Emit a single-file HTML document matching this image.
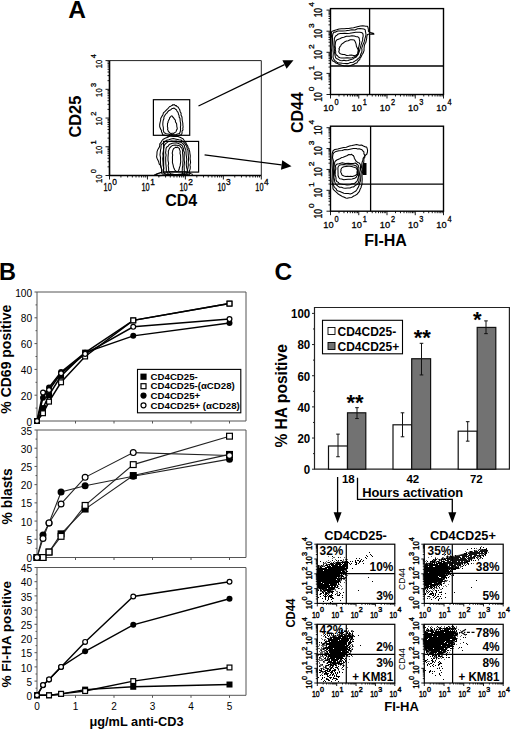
<!DOCTYPE html>
<html><head><meta charset="utf-8"><style>
html,body{margin:0;padding:0;background:#fff;}
svg{display:block;font-family:"Liberation Sans",sans-serif;}
</style></head><body>
<svg width="520" height="730" viewBox="0 0 520 730">
<rect width="520" height="730" fill="#fff"/>
<text x="68.2" y="17.7" font-size="24.5" font-weight="bold" text-anchor="start" fill="#000">A</text>
<path d="M109.5 60.6H261.3V175.5" stroke="#222" stroke-width="1.0" fill="none"/>
<path d="M109.5 60.6V175.5H261.3" stroke="#000" stroke-width="1.6" fill="none"/>
<path d="M120.92 175.5v2M109.5 166.85h-2M127.61 175.5v2M109.5 161.79h-2M132.35 175.5v2M109.5 158.21h-2M136.03 175.5v2M109.5 155.42h-2M139.03 175.5v2M109.5 153.15h-2M141.57 175.5v2M109.5 151.22h-2M143.77 175.5v2M109.5 149.56h-2M145.71 175.5v2M109.5 148.09h-2M158.87 175.5v2M109.5 138.13h-2M165.56 175.5v2M109.5 133.07h-2M170.3 175.5v2M109.5 129.48h-2M173.98 175.5v2M109.5 126.7h-2M176.98 175.5v2M109.5 124.42h-2M179.52 175.5v2M109.5 122.5h-2M181.72 175.5v2M109.5 120.83h-2M183.66 175.5v2M109.5 119.36h-2M196.82 175.5v2M109.5 109.4h-2M203.51 175.5v2M109.5 104.34h-2M208.25 175.5v2M109.5 100.76h-2M211.93 175.5v2M109.5 97.97h-2M214.93 175.5v2M109.5 95.7h-2M217.47 175.5v2M109.5 93.77h-2M219.67 175.5v2M109.5 92.11h-2M221.61 175.5v2M109.5 90.64h-2M234.77 175.5v2M109.5 80.68h-2M241.46 175.5v2M109.5 75.62h-2M246.2 175.5v2M109.5 72.03h-2M249.88 175.5v2M109.5 69.25h-2M252.88 175.5v2M109.5 66.97h-2M255.42 175.5v2M109.5 65.05h-2M257.62 175.5v2M109.5 63.38h-2M259.56 175.5v2M109.5 61.91h-2M109.5 175.5v4M109.5 175.5h-4M147.45 175.5v4M109.5 146.78h-4M185.4 175.5v4M109.5 118.05h-4M223.35 175.5v4M109.5 89.32h-4M261.3 175.5v4M109.5 60.6h-4" stroke="#000" stroke-width="0.9" fill="none"/>
<text transform="translate(103.56,190.5) scale(0.74,1)" font-size="10" font-weight="normal" stroke="#000" stroke-width="0.3">10</text><text transform="translate(112.27,185.1) scale(0.95,1)" font-size="8.8" font-weight="normal" stroke="#000" stroke-width="0.3">0</text>
<text transform="translate(102.2,183.07) rotate(-90) scale(0.8,1)" font-size="9.6" font-weight="normal" stroke="#000" stroke-width="0.3">10</text><text transform="translate(95.5,173.2) rotate(-90) scale(1.0,1)" font-size="7.4" font-weight="normal" stroke="#000" stroke-width="0.3">0</text>
<text transform="translate(141.51,190.5) scale(0.74,1)" font-size="10" font-weight="normal" stroke="#000" stroke-width="0.3">10</text><text transform="translate(150.22,185.1) scale(0.95,1)" font-size="8.8" font-weight="normal" stroke="#000" stroke-width="0.3">1</text>
<text transform="translate(102.2,154.34) rotate(-90) scale(0.8,1)" font-size="9.6" font-weight="normal" stroke="#000" stroke-width="0.3">10</text><text transform="translate(95.5,144.47) rotate(-90) scale(1.0,1)" font-size="7.4" font-weight="normal" stroke="#000" stroke-width="0.3">1</text>
<text transform="translate(179.46,190.5) scale(0.74,1)" font-size="10" font-weight="normal" stroke="#000" stroke-width="0.3">10</text><text transform="translate(188.17,185.1) scale(0.95,1)" font-size="8.8" font-weight="normal" stroke="#000" stroke-width="0.3">2</text>
<text transform="translate(102.2,125.62) rotate(-90) scale(0.8,1)" font-size="9.6" font-weight="normal" stroke="#000" stroke-width="0.3">10</text><text transform="translate(95.5,115.75) rotate(-90) scale(1.0,1)" font-size="7.4" font-weight="normal" stroke="#000" stroke-width="0.3">2</text>
<text transform="translate(217.41,190.5) scale(0.74,1)" font-size="10" font-weight="normal" stroke="#000" stroke-width="0.3">10</text><text transform="translate(226.12,185.1) scale(0.95,1)" font-size="8.8" font-weight="normal" stroke="#000" stroke-width="0.3">3</text>
<text transform="translate(102.2,96.89) rotate(-90) scale(0.8,1)" font-size="9.6" font-weight="normal" stroke="#000" stroke-width="0.3">10</text><text transform="translate(95.5,87.02) rotate(-90) scale(1.0,1)" font-size="7.4" font-weight="normal" stroke="#000" stroke-width="0.3">3</text>
<text transform="translate(255.36,190.5) scale(0.74,1)" font-size="10" font-weight="normal" stroke="#000" stroke-width="0.3">10</text><text transform="translate(264.07,185.1) scale(0.95,1)" font-size="8.8" font-weight="normal" stroke="#000" stroke-width="0.3">4</text>
<text transform="translate(102.2,68.17) rotate(-90) scale(0.8,1)" font-size="9.6" font-weight="normal" stroke="#000" stroke-width="0.3">10</text><text transform="translate(95.5,58.3) rotate(-90) scale(1.0,1)" font-size="7.4" font-weight="normal" stroke="#000" stroke-width="0.3">4</text>
<text x="0" y="0" font-size="16.4" font-weight="bold" text-anchor="start" fill="#000" transform="translate(81.3,137.6) rotate(-90)">CD25</text>
<text x="165.2" y="206" font-size="16" font-weight="bold" text-anchor="start" fill="#000">CD4</text>
<rect x="153.4" y="99.7" width="36.3" height="35.6" fill="none" stroke="#000" stroke-width="1.2"/>
<rect x="163.6" y="141.4" width="35" height="30.7" fill="none" stroke="#000" stroke-width="1.2"/>
<path d="M174.2 104.5L174.9 105.2L175.1 105.6L176.3 105.6L176.7 106.3L177.4 106.8L178.1 107.0L178.8 108.2L179.5 109.2L179.9 110.3L180.1 111.4L181.1 113.2L181.0 115.1L182.0 117.1L182.2 120.3L182.8 123.0L182.9 125.3L183.1 127.0L182.8 128.2L183.0 129.9L182.0 131.1L182.1 132.1L181.9 133.7L181.0 134.9L179.8 135.1L178.3 135.7L176.7 135.9L174.0 136.5L171.7 135.9L169.9 136.1L167.4 136.1L166.0 135.4L163.9 135.1L163.3 135.1L162.7 134.7L162.4 134.1L162.1 132.7L161.5 131.9L161.4 130.2L160.6 129.1L160.1 127.8L159.7 126.5L159.7 124.7L159.9 123.4L160.2 122.0L160.7 119.9L160.7 118.5L161.8 116.4L162.8 115.1L163.4 112.8L164.8 111.6L166.8 109.6L168.1 108.3L168.8 107.5L169.9 106.4L170.4 106.4L171.7 105.6L172.3 105.4L172.5 104.7L173.5 104.9Z" stroke="#000" stroke-width="1.05" fill="none" stroke-linejoin="round"/>
<path d="M173.6 108.1L174.2 108.1L175.1 108.8L175.9 109.5L176.5 109.7L176.9 111.0L177.6 111.8L178.3 113.0L178.4 114.0L179.1 115.6L179.2 117.1L180.0 118.4L180.1 120.3L180.2 121.5L180.6 123.2L180.7 125.4L180.4 127.3L180.6 128.5L180.4 130.8L180.0 132.3L179.5 133.5L178.4 133.7L176.1 134.4L174.0 134.8L171.7 134.4L170.2 134.8L168.2 134.1L166.3 133.7L164.8 133.1L164.0 132.3L163.3 130.6L163.4 129.2L163.3 127.3L162.9 125.5L162.8 124.1L163.0 121.5L163.3 120.1L163.9 118.7L163.9 117.1L164.7 115.7L165.6 114.2L166.7 113.4L167.7 111.8L168.6 110.8L170.3 110.1L171.2 109.4L172.0 108.5L172.9 108.5Z" stroke="#000" stroke-width="1.05" fill="none" stroke-linejoin="round"/>
<path d="M171.4 115.9L172.1 116.1L172.5 116.3L172.9 117.3L173.6 117.7L174.0 118.6L174.9 119.7L175.4 120.2L175.4 121.5L175.7 122.4L176.5 123.3L176.7 124.5L176.8 126.3L177.0 127.1L177.3 128.9L176.6 129.9L176.2 131.2L175.7 132.1L175.1 132.4L173.7 133.4L173.3 133.3L172.3 133.3L170.9 133.5L169.8 133.0L169.2 132.1L168.3 131.5L168.1 130.5L167.5 129.2L167.9 128.1L167.4 126.8L167.5 125.3L167.5 123.4L168.1 122.5L168.0 121.7L168.7 120.1L169.1 119.6L169.5 118.6L169.6 117.9L170.5 116.8L170.8 116.5Z" stroke="#000" stroke-width="1.05" fill="none" stroke-linejoin="round"/>
<path d="M170.2 135.9L172.7 136.2L174.9 136.4L178.0 136.5L179.9 137.3L181.6 138.1L183.0 138.8L184.2 140.5L185.3 141.8L186.1 143.1L186.6 144.4L187.9 146.2L188.0 147.7L189.0 148.7L189.2 150.2L189.7 151.5L189.9 153.3L190.3 155.8L190.1 158.8L190.6 162.4L189.9 165.1L190.3 166.7L190.2 168.7L189.8 170.1L189.3 170.7L189.4 172.0L190.0 173.1L189.3 174.6L187.7 174.7L185.0 175.3L180.6 175.6L176.6 175.1L171.7 175.1L167.5 175.5L162.5 175.6L158.2 175.6L155.8 174.7L155.8 174.5L158.1 173.5L160.1 173.0L161.5 172.2L161.7 171.3L161.7 169.8L161.5 168.6L161.1 167.4L160.6 165.3L159.2 164.0L158.7 161.8L158.1 160.5L157.0 158.2L156.6 156.9L156.9 154.8L157.0 153.1L157.0 151.8L157.6 150.1L158.0 149.2L159.2 147.4L159.7 146.0L159.8 143.8L161.0 142.4L162.0 140.5L163.3 139.2L165.6 138.0L167.8 137.2Z" stroke="#000" stroke-width="1.05" fill="none" stroke-linejoin="round"/>
<path d="M171.0 138.9L173.3 138.6L176.2 139.2L178.9 139.8L181.0 140.0L182.5 141.4L183.9 142.3L185.2 143.8L185.8 145.0L186.9 146.8L187.1 148.4L187.9 149.9L188.1 152.3L188.2 154.4L188.5 157.2L188.5 160.5L188.2 163.3L188.3 165.1L188.0 167.8L187.5 169.6L187.5 171.2L187.9 172.0L188.0 173.2L187.8 174.2L185.7 174.3L181.7 175.1L175.4 174.7L168.8 174.6L164.2 174.3L162.3 173.9L161.4 172.6L161.8 171.5L161.8 169.7L161.1 167.6L160.7 165.7L160.5 162.3L160.4 160.1L160.5 157.7L160.0 154.8L160.3 152.2L160.6 149.7L161.0 148.2L161.0 146.0L161.2 144.5L162.8 143.3L164.4 142.0L166.4 140.3L168.8 139.7Z" stroke="#000" stroke-width="1.05" fill="none" stroke-linejoin="round"/>
<path d="M171.5 141.1L173.9 141.2L176.3 141.1L178.8 141.9L181.0 142.2L182.3 143.2L183.7 144.5L184.4 145.3L184.6 147.0L185.1 148.3L185.8 149.7L186.0 151.6L186.1 154.3L186.4 156.3L186.8 159.6L186.4 162.2L186.3 165.2L186.7 167.8L187.4 170.0L186.8 172.8L185.8 174.0L181.8 174.8L175.7 175.3L169.9 174.9L166.0 173.9L163.8 173.2L163.6 171.9L163.3 170.1L163.8 168.1L163.1 165.5L163.0 162.2L162.7 158.6L163.1 156.0L162.8 153.8L163.4 150.8L163.6 149.0L164.0 147.1L164.0 145.9L164.8 144.6L165.2 144.2L166.3 143.1L167.3 142.4L168.3 141.6L169.7 141.4Z" stroke="#000" stroke-width="1.05" fill="none" stroke-linejoin="round"/>
<path d="M172.4 143.3L174.5 142.9L176.7 142.8L179.0 143.8L180.3 144.3L181.8 145.2L182.7 146.4L182.9 147.5L183.7 148.8L183.6 150.5L184.4 152.5L184.2 154.4L184.2 157.3L184.2 160.0L184.5 162.4L184.1 165.8L184.2 168.3L184.2 170.2L184.9 171.9L184.7 173.2L183.5 173.8L180.2 174.6L176.3 174.5L171.5 175.0L168.5 174.0L167.0 172.4L166.3 170.6L166.3 168.4L166.1 166.3L165.8 163.6L165.7 160.8L165.7 157.4L166.1 155.2L165.6 152.7L165.9 150.5L166.0 148.8L166.5 147.2L168.1 146.3L169.2 144.6L171.1 143.8Z" stroke="#000" stroke-width="1.05" fill="none" stroke-linejoin="round"/>
<path d="M173.5 145.3L175.1 145.1L176.9 145.3L178.5 145.5L180.0 146.1L180.8 147.1L181.8 148.1L182.2 149.1L182.7 150.9L182.5 152.8L182.8 154.9L183.0 157.8L183.1 159.9L182.8 162.8L182.8 165.4L182.3 168.2L182.3 170.2L182.1 171.5L182.5 172.4L182.6 173.3L181.8 174.0L178.9 174.3L175.9 174.7L173.1 174.2L170.8 173.8L169.6 172.6L168.6 170.6L168.6 168.0L168.2 165.7L168.6 163.4L168.0 160.3L168.0 157.4L168.2 155.0L168.4 153.3L168.3 151.2L168.8 150.1L169.4 148.3L170.5 147.1L171.2 146.4L172.6 145.4Z" stroke="#000" stroke-width="1.05" fill="none" stroke-linejoin="round"/>
<path d="M175.9 147.2L176.5 147.6L177.6 147.1L178.3 147.8L179.4 148.4L179.4 149.4L180.2 151.1L180.0 153.4L180.5 155.2L180.6 156.8L180.6 159.8L180.7 161.6L180.3 164.3L180.1 165.9L179.4 167.7L179.1 169.3L178.6 170.6L178.0 171.1L177.4 171.4L176.3 171.6L175.7 170.8L174.8 170.1L174.0 168.3L173.4 166.6L173.2 165.3L172.4 162.4L172.5 160.2L172.4 157.0L172.7 154.9L172.2 153.2L172.6 151.5L172.8 150.4L173.2 149.4L173.6 148.6L174.7 147.8L175.3 147.3Z" stroke="#000" stroke-width="1.05" fill="none" stroke-linejoin="round"/>
<path d="M154 175 L161 172.3 L172 171.5 L186 171.8 L193 174.5" stroke="#000" stroke-width="0.9" fill="none"/>
<line x1="198.5" y1="106" x2="284.49" y2="64.54" stroke="#000" stroke-width="1.3"/>
<path d="M293.5 60.2 L286.58 68.87 L282.41 60.22Z" fill="#000"/>
<line x1="204.6" y1="154.8" x2="281.58" y2="164.9" stroke="#000" stroke-width="1.3"/>
<path d="M291.5 166.2 L280.96 169.66 L282.21 160.14Z" fill="#000"/>
<rect x="330.5" y="8.6" width="113" height="85.9" fill="none" stroke="#000" stroke-width="1.4"/>
<path d="M339 94.5v2M330.5 88.15h-2M343.98 94.5v2M330.5 84.43h-2M347.51 94.5v2M330.5 81.8h-2M350.25 94.5v2M330.5 79.75h-2M352.48 94.5v2M330.5 78.08h-2M354.37 94.5v2M330.5 76.67h-2M356.01 94.5v2M330.5 75.44h-2M357.46 94.5v2M330.5 74.37h-2M367.25 94.5v2M330.5 67.05h-2M372.23 94.5v2M330.5 63.33h-2M375.76 94.5v2M330.5 60.7h-2M378.5 94.5v2M330.5 58.65h-2M380.73 94.5v2M330.5 56.98h-2M382.62 94.5v2M330.5 55.57h-2M384.26 94.5v2M330.5 54.34h-2M385.71 94.5v2M330.5 53.27h-2M395.5 94.5v2M330.5 45.95h-2M400.48 94.5v2M330.5 42.23h-2M404.01 94.5v2M330.5 39.6h-2M406.75 94.5v2M330.5 37.55h-2M408.98 94.5v2M330.5 35.88h-2M410.87 94.5v2M330.5 34.47h-2M412.51 94.5v2M330.5 33.24h-2M413.96 94.5v2M330.5 32.17h-2M423.75 94.5v2M330.5 24.85h-2M428.73 94.5v2M330.5 21.13h-2M432.26 94.5v2M330.5 18.5h-2M435 94.5v2M330.5 16.45h-2M437.23 94.5v2M330.5 14.78h-2M439.12 94.5v2M330.5 13.37h-2M440.76 94.5v2M330.5 12.14h-2M442.21 94.5v2M330.5 11.07h-2M330.5 94.5v4M330.5 94.5h-4M358.75 94.5v4M330.5 73.4h-4M387 94.5v4M330.5 52.3h-4M415.25 94.5v4M330.5 31.2h-4M443.5 94.5v4M330.5 10.1h-4" stroke="#000" stroke-width="0.9" fill="none"/>
<text transform="translate(323.37,110.8) scale(0.95,1)" font-size="9.8" font-weight="normal" stroke="#000" stroke-width="0.3">10</text><text transform="translate(334.6,105.2) scale(0.9,1)" font-size="8.2" font-weight="normal" stroke="#000" stroke-width="0.3">0</text>
<text transform="translate(321.9,101.75) rotate(-90) scale(0.8,1)" font-size="10.6" font-weight="normal" stroke="#000" stroke-width="0.3">10</text><text transform="translate(313.8,91.24) rotate(-90) scale(1.15,1)" font-size="7.3" font-weight="normal" stroke="#000" stroke-width="0.3">0</text>
<text transform="translate(351.62,110.8) scale(0.95,1)" font-size="9.8" font-weight="normal" stroke="#000" stroke-width="0.3">10</text><text transform="translate(362.85,105.2) scale(0.9,1)" font-size="8.2" font-weight="normal" stroke="#000" stroke-width="0.3">1</text>
<text transform="translate(321.9,80.65) rotate(-90) scale(0.8,1)" font-size="10.6" font-weight="normal" stroke="#000" stroke-width="0.3">10</text><text transform="translate(313.8,70.14) rotate(-90) scale(1.15,1)" font-size="7.3" font-weight="normal" stroke="#000" stroke-width="0.3">1</text>
<text transform="translate(379.87,110.8) scale(0.95,1)" font-size="9.8" font-weight="normal" stroke="#000" stroke-width="0.3">10</text><text transform="translate(391.1,105.2) scale(0.9,1)" font-size="8.2" font-weight="normal" stroke="#000" stroke-width="0.3">2</text>
<text transform="translate(321.9,59.55) rotate(-90) scale(0.8,1)" font-size="10.6" font-weight="normal" stroke="#000" stroke-width="0.3">10</text><text transform="translate(313.8,49.04) rotate(-90) scale(1.15,1)" font-size="7.3" font-weight="normal" stroke="#000" stroke-width="0.3">2</text>
<text transform="translate(408.12,110.8) scale(0.95,1)" font-size="9.8" font-weight="normal" stroke="#000" stroke-width="0.3">10</text><text transform="translate(419.35,105.2) scale(0.9,1)" font-size="8.2" font-weight="normal" stroke="#000" stroke-width="0.3">3</text>
<text transform="translate(321.9,38.45) rotate(-90) scale(0.8,1)" font-size="10.6" font-weight="normal" stroke="#000" stroke-width="0.3">10</text><text transform="translate(313.8,27.94) rotate(-90) scale(1.15,1)" font-size="7.3" font-weight="normal" stroke="#000" stroke-width="0.3">3</text>
<text transform="translate(436.37,110.8) scale(0.95,1)" font-size="9.8" font-weight="normal" stroke="#000" stroke-width="0.3">10</text><text transform="translate(447.6,105.2) scale(0.9,1)" font-size="8.2" font-weight="normal" stroke="#000" stroke-width="0.3">4</text>
<text transform="translate(321.9,17.35) rotate(-90) scale(0.8,1)" font-size="10.6" font-weight="normal" stroke="#000" stroke-width="0.3">10</text><text transform="translate(313.8,6.84) rotate(-90) scale(1.15,1)" font-size="7.3" font-weight="normal" stroke="#000" stroke-width="0.3">4</text>
<line x1="369.6" y1="8.6" x2="369.6" y2="94.5" stroke="#000" stroke-width="1.3"/>
<line x1="330.5" y1="66" x2="443.5" y2="66" stroke="#000" stroke-width="1.3"/>
<rect x="330.5" y="126.2" width="113" height="85" fill="none" stroke="#000" stroke-width="1.4"/>
<path d="M339 211.2v2M330.5 204.92h-2M343.98 211.2v2M330.5 201.24h-2M347.51 211.2v2M330.5 198.63h-2M350.25 211.2v2M330.5 196.61h-2M352.48 211.2v2M330.5 194.96h-2M354.37 211.2v2M330.5 193.56h-2M356.01 211.2v2M330.5 192.35h-2M357.46 211.2v2M330.5 191.28h-2M367.25 211.2v2M330.5 184.04h-2M372.23 211.2v2M330.5 180.37h-2M375.76 211.2v2M330.5 177.76h-2M378.5 211.2v2M330.5 175.73h-2M380.73 211.2v2M330.5 174.08h-2M382.62 211.2v2M330.5 172.68h-2M384.26 211.2v2M330.5 171.47h-2M385.71 211.2v2M330.5 170.41h-2M395.5 211.2v2M330.5 163.17h-2M400.48 211.2v2M330.5 159.49h-2M404.01 211.2v2M330.5 156.88h-2M406.75 211.2v2M330.5 154.86h-2M408.98 211.2v2M330.5 153.21h-2M410.87 211.2v2M330.5 151.81h-2M412.51 211.2v2M330.5 150.6h-2M413.96 211.2v2M330.5 149.53h-2M423.75 211.2v2M330.5 142.29h-2M428.73 211.2v2M330.5 138.62h-2M432.26 211.2v2M330.5 136.01h-2M435 211.2v2M330.5 133.98h-2M437.23 211.2v2M330.5 132.33h-2M439.12 211.2v2M330.5 130.93h-2M440.76 211.2v2M330.5 129.72h-2M442.21 211.2v2M330.5 128.66h-2M330.5 211.2v4M330.5 211.2h-4M358.75 211.2v4M330.5 190.32h-4M387 211.2v4M330.5 169.45h-4M415.25 211.2v4M330.5 148.57h-4M443.5 211.2v4M330.5 127.7h-4" stroke="#000" stroke-width="0.9" fill="none"/>
<text transform="translate(323.37,227.5) scale(0.95,1)" font-size="9.8" font-weight="normal" stroke="#000" stroke-width="0.3">10</text><text transform="translate(334.6,221.9) scale(0.9,1)" font-size="8.2" font-weight="normal" stroke="#000" stroke-width="0.3">0</text>
<text transform="translate(321.9,218.45) rotate(-90) scale(0.8,1)" font-size="10.6" font-weight="normal" stroke="#000" stroke-width="0.3">10</text><text transform="translate(313.8,207.94) rotate(-90) scale(1.15,1)" font-size="7.3" font-weight="normal" stroke="#000" stroke-width="0.3">0</text>
<text transform="translate(351.62,227.5) scale(0.95,1)" font-size="9.8" font-weight="normal" stroke="#000" stroke-width="0.3">10</text><text transform="translate(362.85,221.9) scale(0.9,1)" font-size="8.2" font-weight="normal" stroke="#000" stroke-width="0.3">1</text>
<text transform="translate(321.9,197.57) rotate(-90) scale(0.8,1)" font-size="10.6" font-weight="normal" stroke="#000" stroke-width="0.3">10</text><text transform="translate(313.8,187.06) rotate(-90) scale(1.15,1)" font-size="7.3" font-weight="normal" stroke="#000" stroke-width="0.3">1</text>
<text transform="translate(379.87,227.5) scale(0.95,1)" font-size="9.8" font-weight="normal" stroke="#000" stroke-width="0.3">10</text><text transform="translate(391.1,221.9) scale(0.9,1)" font-size="8.2" font-weight="normal" stroke="#000" stroke-width="0.3">2</text>
<text transform="translate(321.9,176.7) rotate(-90) scale(0.8,1)" font-size="10.6" font-weight="normal" stroke="#000" stroke-width="0.3">10</text><text transform="translate(313.8,166.19) rotate(-90) scale(1.15,1)" font-size="7.3" font-weight="normal" stroke="#000" stroke-width="0.3">2</text>
<text transform="translate(408.12,227.5) scale(0.95,1)" font-size="9.8" font-weight="normal" stroke="#000" stroke-width="0.3">10</text><text transform="translate(419.35,221.9) scale(0.9,1)" font-size="8.2" font-weight="normal" stroke="#000" stroke-width="0.3">3</text>
<text transform="translate(321.9,155.82) rotate(-90) scale(0.8,1)" font-size="10.6" font-weight="normal" stroke="#000" stroke-width="0.3">10</text><text transform="translate(313.8,145.31) rotate(-90) scale(1.15,1)" font-size="7.3" font-weight="normal" stroke="#000" stroke-width="0.3">3</text>
<text transform="translate(436.37,227.5) scale(0.95,1)" font-size="9.8" font-weight="normal" stroke="#000" stroke-width="0.3">10</text><text transform="translate(447.6,221.9) scale(0.9,1)" font-size="8.2" font-weight="normal" stroke="#000" stroke-width="0.3">4</text>
<text transform="translate(321.9,134.95) rotate(-90) scale(0.8,1)" font-size="10.6" font-weight="normal" stroke="#000" stroke-width="0.3">10</text><text transform="translate(313.8,124.44) rotate(-90) scale(1.15,1)" font-size="7.3" font-weight="normal" stroke="#000" stroke-width="0.3">4</text>
<line x1="370.6" y1="126.2" x2="370.6" y2="211.2" stroke="#000" stroke-width="1.3"/>
<line x1="330.5" y1="184.2" x2="443.5" y2="184.2" stroke="#000" stroke-width="1.3"/>
<text x="0" y="0" font-size="16" font-weight="bold" text-anchor="start" fill="#000" transform="translate(303.4,133) rotate(-90)">CD44</text>
<text x="364.2" y="245.8" font-size="16" font-weight="bold" text-anchor="start" fill="#000">FI-HA</text>
<path d="M331.6 31.6L333.4 30.7L336.6 29.8L339.1 28.9L341.5 28.8L344.3 28.8L346.6 28.5L348.7 28.4L351.4 27.9L353.5 27.7L357.3 26.7L360.5 26.0L362.8 25.7L364.5 25.9L365.7 26.2L367.2 26.2L367.8 26.9L368.1 28.0L368.3 29.2L369.0 30.1L368.3 30.9L368.8 31.7L370.6 32.5L373.2 33.2L374.0 34.2L372.3 34.1L369.5 34.1L367.5 34.5L367.0 35.7L366.8 36.9L366.7 38.5L366.4 39.8L365.9 42.2L365.0 43.7L364.3 45.9L364.0 48.7L364.1 50.4L363.2 53.0L362.0 54.8L361.1 56.9L360.0 58.3L359.7 59.7L358.5 60.3L357.5 61.9L356.8 62.9L355.5 63.3L353.9 64.3L350.6 65.6L348.2 66.3L346.0 65.9L344.2 66.0L341.7 65.3L339.3 64.5L337.4 63.5L335.7 62.9L334.0 61.4L332.4 60.8L331.6 58.9L331.3 55.8L331.4 51.2L331.8 48.0L331.9 44.1L331.9 41.6L331.9 38.5L331.5 36.3L331.3 33.9Z" stroke="#000" stroke-width="1.05" fill="none" stroke-linejoin="round"/>
<path d="M332.9 33.7L333.9 32.1L335.5 32.1L337.8 31.1L339.7 30.9L342.6 31.0L345.8 30.8L349.4 30.2L351.9 29.7L354.9 29.9L357.6 28.7L360.1 28.6L361.8 28.7L363.9 29.0L364.8 29.6L365.4 30.0L365.3 31.0L365.6 32.1L366.0 34.5L365.6 36.3L365.0 38.3L364.6 40.0L364.2 42.0L363.3 43.8L362.5 45.9L361.7 48.3L362.0 49.8L361.8 52.4L360.6 54.2L360.7 55.3L359.6 57.3L358.0 58.7L357.0 59.7L355.2 60.9L353.1 62.3L350.4 62.5L348.1 63.6L345.6 63.6L342.4 63.3L339.8 62.9L338.1 62.7L336.8 62.2L335.6 61.2L334.6 60.4L333.5 58.7L333.0 57.1L333.3 53.3L333.0 50.7L333.2 47.1L332.7 43.6L332.5 39.8L332.4 36.7Z" stroke="#000" stroke-width="1.05" fill="none" stroke-linejoin="round"/>
<path d="M334.9 37.2L335.6 36.0L336.9 35.2L338.2 34.0L340.3 33.6L342.0 33.5L344.8 33.3L347.3 33.5L349.7 33.3L352.9 32.8L355.8 32.3L358.4 32.2L359.7 32.2L361.3 32.4L362.6 33.3L363.0 34.1L363.2 36.2L362.7 38.0L362.7 40.1L361.8 42.7L361.0 45.0L360.6 47.0L359.9 49.2L359.6 50.8L358.8 52.7L358.0 54.7L357.0 55.9L356.3 56.9L354.6 57.7L353.4 58.7L351.1 59.4L348.0 60.4L345.9 60.7L343.9 60.2L342.2 60.7L340.3 60.4L339.2 59.9L337.5 58.9L336.3 58.4L335.6 57.6L335.1 55.6L334.7 53.4L334.3 51.2L334.8 48.0L334.1 45.3L334.1 42.7L334.3 40.1L334.3 38.5Z" stroke="#000" stroke-width="1.05" fill="none" stroke-linejoin="round"/>
<path d="M336.0 40.8L337.1 39.7L339.8 38.7L341.7 37.7L343.8 37.2L346.5 36.2L349.5 36.3L352.0 35.8L354.3 35.9L355.6 36.4L356.9 36.8L357.9 36.8L359.1 37.9L359.3 39.2L359.8 41.9L359.5 43.6L359.1 46.0L358.5 47.9L358.6 49.9L357.8 52.5L357.7 54.3L356.8 55.0L355.1 56.6L353.9 56.9L352.1 57.8L350.1 58.0L347.1 57.8L344.5 58.0L341.7 58.1L340.1 57.7L338.4 56.9L337.5 55.7L336.4 55.0L335.6 53.6L335.7 51.4L335.3 49.9L335.4 48.2L335.1 45.8L335.3 43.9L335.5 42.2Z" stroke="#000" stroke-width="1.05" fill="none" stroke-linejoin="round"/>
<path d="M339.8 46.7L340.6 46.1L340.8 45.6L341.2 44.7L342.0 43.9L342.9 43.3L343.6 42.8L344.9 41.7L346.5 41.1L348.2 40.7L350.2 39.8L352.0 39.7L354.2 40.0L354.7 40.8L355.6 42.6L356.1 44.1L356.4 46.2L357.0 47.4L357.9 49.3L358.3 50.6L358.3 52.1L358.5 53.5L358.1 53.8L356.8 54.7L355.7 55.2L353.6 55.6L351.3 55.1L348.9 55.3L346.7 55.4L344.5 54.6L342.8 54.5L341.1 53.9L339.8 53.4L339.1 52.5L338.8 51.3L339.2 50.2L339.4 49.3L338.9 49.0L339.2 48.2L339.7 47.4Z" stroke="#000" stroke-width="1.05" fill="none" stroke-linejoin="round"/>
<path d="M333.1 150.7L334.9 149.4L337.8 149.0L340.6 148.2L343.7 147.6L346.3 147.2L349.5 146.0L352.0 145.5L354.5 144.9L356.6 144.6L359.3 145.2L361.6 145.0L363.4 146.0L365.6 147.0L366.7 147.1L367.1 148.3L367.6 150.3L367.4 152.2L366.9 154.0L365.7 155.0L364.9 156.3L364.7 157.7L363.8 158.7L363.9 160.0L363.8 162.0L362.9 165.3L362.6 168.6L362.6 172.1L362.0 175.9L362.2 179.1L362.0 182.8L362.1 184.2L361.3 186.2L361.1 187.4L360.2 189.0L359.4 191.4L358.6 192.4L357.1 194.2L355.2 195.4L353.7 196.0L351.8 197.4L349.2 197.8L347.1 198.2L345.8 198.0L343.8 197.0L342.1 196.4L340.7 195.5L339.4 194.7L337.9 193.7L336.5 192.3L335.1 191.1L333.5 189.7L332.9 188.2L332.9 186.2L332.6 184.1L331.9 181.3L332.2 177.4L332.3 174.3L332.4 169.7L332.1 165.4L331.9 161.2L331.9 157.3L332.1 154.0Z" stroke="#000" stroke-width="1.05" fill="none" stroke-linejoin="round"/>
<path d="M333.7 152.9L335.9 151.4L338.9 150.7L342.2 150.6L344.8 149.6L347.7 149.7L351.1 148.9L353.3 148.5L356.4 148.5L357.5 148.9L359.2 148.7L361.3 149.4L362.2 150.0L362.9 151.0L363.9 151.8L363.9 153.9L364.7 155.0L364.6 156.3L363.1 158.4L362.9 160.1L362.1 162.3L361.8 164.1L361.6 166.5L360.9 169.0L361.4 171.9L360.9 174.4L360.7 177.7L360.6 180.5L359.6 183.0L359.3 184.8L358.4 187.1L357.7 188.1L356.8 189.8L355.9 191.0L353.5 192.4L352.3 193.2L350.3 193.9L348.2 193.5L345.8 193.4L343.9 193.2L341.6 192.3L339.9 191.6L338.3 191.0L336.9 190.4L336.1 188.7L335.0 187.8L334.4 187.0L333.4 185.2L332.9 182.6L333.2 179.5L333.5 174.3L333.4 169.2L333.4 165.0L333.6 161.3L332.5 157.6L332.9 154.6Z" stroke="#000" stroke-width="1.05" fill="none" stroke-linejoin="round"/>
<path d="M335.5 161.0L337.2 159.8L338.0 159.4L340.2 158.5L341.9 157.4L343.2 157.2L344.9 156.5L346.8 155.8L347.7 155.2L348.8 154.5L350.6 154.7L351.4 154.3L352.0 154.4L352.3 155.2L353.5 155.5L353.5 156.0L354.1 156.9L354.3 158.2L355.2 159.6L355.7 160.9L356.2 161.1L357.4 162.2L357.9 162.5L359.3 163.1L360.3 164.3L360.5 166.9L360.5 169.1L359.7 172.4L359.4 175.2L358.9 177.1L359.1 180.1L358.7 181.6L357.9 183.8L356.5 184.8L355.1 185.6L353.5 187.0L352.1 187.1L350.0 188.0L347.8 188.1L345.2 188.2L343.4 188.0L341.5 187.3L339.5 187.2L337.9 186.1L337.2 185.5L336.1 184.6L335.5 183.8L334.7 181.9L334.6 180.4L333.9 177.4L334.3 174.5L334.6 171.1L334.9 167.8L334.8 166.0L334.6 163.9L334.7 162.2Z" stroke="#000" stroke-width="1.05" fill="none" stroke-linejoin="round"/>
<path d="M337.2 164.0L339.0 163.7L342.3 162.8L345.2 163.4L348.2 163.2L350.5 163.4L353.2 163.4L355.5 163.0L356.7 164.0L358.3 165.4L358.5 166.9L359.0 167.8L358.7 170.2L358.7 172.0L358.7 174.9L358.4 176.8L357.7 179.3L357.2 180.8L356.2 182.0L355.1 182.9L354.0 183.7L352.0 183.7L349.9 184.7L347.0 184.9L344.7 184.4L343.0 184.4L341.1 184.1L339.3 183.7L338.3 182.4L336.7 181.5L336.1 179.9L336.0 178.4L335.9 177.1L335.1 175.0L335.3 173.2L335.2 170.7L335.8 169.2L335.8 167.7L335.3 166.1L336.2 164.8Z" stroke="#000" stroke-width="1.05" fill="none" stroke-linejoin="round"/>
<path d="M339.3 165.2L341.3 164.7L344.0 164.6L346.5 164.9L348.7 164.7L350.9 164.7L353.3 165.1L355.2 165.6L356.6 166.2L357.3 167.3L357.4 168.7L357.5 170.7L357.4 171.9L357.6 173.6L357.5 175.1L356.6 176.3L356.3 177.2L354.7 178.2L352.1 179.1L350.3 179.2L348.1 179.3L345.7 179.4L343.8 179.7L341.6 178.9L339.8 178.8L338.8 177.5L338.0 175.3L338.1 173.8L338.0 172.1L338.0 170.5L337.9 168.2L338.2 166.7Z" stroke="#000" stroke-width="1.05" fill="none" stroke-linejoin="round"/>
<path d="M342.2 167.5L343.9 166.8L346.0 166.5L348.2 166.2L350.0 166.3L351.5 166.6L353.3 167.1L355.0 167.5L356.2 167.7L356.4 168.8L357.3 169.6L357.4 170.4L357.2 171.3L357.0 172.4L357.1 173.8L356.3 174.6L355.4 175.5L353.9 176.0L352.4 176.5L350.6 176.2L349.0 176.5L347.7 176.2L345.8 176.5L344.0 176.0L342.8 175.6L341.9 174.9L341.5 173.5L341.0 172.8L340.7 171.3L341.1 170.2L340.9 169.4L341.7 168.0Z" stroke="#000" stroke-width="1.05" fill="none" stroke-linejoin="round"/>
<rect x="363" y="163" width="3.5" height="12" fill="#000"/>
<text x="-1" y="280.2" font-size="23.5" font-weight="bold" text-anchor="start" fill="#000">B</text>
<path d="M37 292H246V421H37Z" fill="none" stroke="#555" stroke-width="1"/>
<text x="32.2" y="425.6" font-size="10.2" font-weight="normal" text-anchor="end" fill="#000">0</text>
<text x="32.2" y="399.8" font-size="10.2" font-weight="normal" text-anchor="end" fill="#000">20</text>
<text x="32.2" y="374" font-size="10.2" font-weight="normal" text-anchor="end" fill="#000">40</text>
<text x="32.2" y="348.2" font-size="10.2" font-weight="normal" text-anchor="end" fill="#000">60</text>
<text x="32.2" y="322.4" font-size="10.2" font-weight="normal" text-anchor="end" fill="#000">80</text>
<text x="32.2" y="296.6" font-size="10.2" font-weight="normal" text-anchor="end" fill="#000">100</text>
<path d="M37 421h-2.5M37 408.1h-1.5M37 395.2h-2.5M37 382.3h-1.5M37 369.4h-2.5M37 356.5h-1.5M37 343.6h-2.5M37 330.7h-1.5M37 317.8h-2.5M37 304.9h-1.5M37 292h-2.5M75.5 421v2.5M114 421v2.5M152.5 421v2.5M191 421v2.5M229.5 421v2.5" stroke="#555" stroke-width="1" fill="none"/>
<polyline points="37,421 43.01,408.1 49.03,395.2 61.06,375.85 85.12,352.63 133.25,320.38 229.5,303.61" fill="none" stroke="#000" stroke-width="1.5"/>
<polyline points="37,421 43.01,413.26 49.03,401.65 61.06,382.3 85.12,356.5 133.25,320.38 229.5,303.61" fill="none" stroke="#000" stroke-width="1.5"/>
<polyline points="37,421 43.01,397.78 49.03,387.46 61.06,371.98 85.12,352.63 133.25,335.86 229.5,322.96" fill="none" stroke="#000" stroke-width="1.5"/>
<polyline points="37,421 43.01,392.62 49.03,390.04 61.06,373.27 85.12,353.92 133.25,326.83 229.5,319.09" fill="none" stroke="#000" stroke-width="1.5"/>
<rect x="34" y="418" width="6" height="6" fill="#000"/>
<rect x="40.01" y="405.1" width="6" height="6" fill="#000"/>
<rect x="46.03" y="392.2" width="6" height="6" fill="#000"/>
<rect x="58.06" y="372.85" width="6" height="6" fill="#000"/>
<rect x="82.12" y="349.63" width="6" height="6" fill="#000"/>
<rect x="130.25" y="317.38" width="6" height="6" fill="#000"/>
<rect x="226.5" y="300.61" width="6" height="6" fill="#000"/>
<rect x="34.6" y="418.6" width="4.8" height="4.8" fill="#fff" stroke="#000" stroke-width="1.2"/>
<rect x="40.61" y="410.86" width="4.8" height="4.8" fill="#fff" stroke="#000" stroke-width="1.2"/>
<rect x="46.63" y="399.25" width="4.8" height="4.8" fill="#fff" stroke="#000" stroke-width="1.2"/>
<rect x="58.66" y="379.9" width="4.8" height="4.8" fill="#fff" stroke="#000" stroke-width="1.2"/>
<rect x="82.72" y="354.1" width="4.8" height="4.8" fill="#fff" stroke="#000" stroke-width="1.2"/>
<rect x="130.85" y="317.98" width="4.8" height="4.8" fill="#fff" stroke="#000" stroke-width="1.2"/>
<rect x="227.1" y="301.21" width="4.8" height="4.8" fill="#fff" stroke="#000" stroke-width="1.2"/>
<circle cx="37" cy="421" r="3.0" fill="#000"/>
<circle cx="43.01" cy="397.78" r="3.0" fill="#000"/>
<circle cx="49.03" cy="387.46" r="3.0" fill="#000"/>
<circle cx="61.06" cy="371.98" r="3.0" fill="#000"/>
<circle cx="85.12" cy="352.63" r="3.0" fill="#000"/>
<circle cx="133.25" cy="335.86" r="3.0" fill="#000"/>
<circle cx="229.5" cy="322.96" r="3.0" fill="#000"/>
<circle cx="37" cy="421" r="2.4" fill="#fff" stroke="#000" stroke-width="1.2"/>
<circle cx="43.01" cy="392.62" r="2.4" fill="#fff" stroke="#000" stroke-width="1.2"/>
<circle cx="49.03" cy="390.04" r="2.4" fill="#fff" stroke="#000" stroke-width="1.2"/>
<circle cx="61.06" cy="373.27" r="2.4" fill="#fff" stroke="#000" stroke-width="1.2"/>
<circle cx="85.12" cy="353.92" r="2.4" fill="#fff" stroke="#000" stroke-width="1.2"/>
<circle cx="133.25" cy="326.83" r="2.4" fill="#fff" stroke="#000" stroke-width="1.2"/>
<circle cx="229.5" cy="319.09" r="2.4" fill="#fff" stroke="#000" stroke-width="1.2"/>
<path d="M37 430H246V557.5H37Z" fill="none" stroke="#555" stroke-width="1"/>
<text x="32.2" y="562.1" font-size="10.2" font-weight="normal" text-anchor="end" fill="#000">0</text>
<text x="32.2" y="543.89" font-size="10.2" font-weight="normal" text-anchor="end" fill="#000">5</text>
<text x="32.2" y="525.67" font-size="10.2" font-weight="normal" text-anchor="end" fill="#000">10</text>
<text x="32.2" y="507.46" font-size="10.2" font-weight="normal" text-anchor="end" fill="#000">15</text>
<text x="32.2" y="489.24" font-size="10.2" font-weight="normal" text-anchor="end" fill="#000">20</text>
<text x="32.2" y="471.03" font-size="10.2" font-weight="normal" text-anchor="end" fill="#000">25</text>
<text x="32.2" y="452.81" font-size="10.2" font-weight="normal" text-anchor="end" fill="#000">30</text>
<text x="32.2" y="434.6" font-size="10.2" font-weight="normal" text-anchor="end" fill="#000">35</text>
<path d="M37 557.5h-2.5M37 548.39h-1.5M37 539.29h-2.5M37 530.18h-1.5M37 521.07h-2.5M37 511.96h-1.5M37 502.86h-2.5M37 493.75h-1.5M37 484.64h-2.5M37 475.54h-1.5M37 466.43h-2.5M37 457.32h-1.5M37 448.21h-2.5M37 439.11h-1.5M37 430h-2.5M75.5 557.5v2.5M114 557.5v2.5M152.5 557.5v2.5M191 557.5v2.5M229.5 557.5v2.5" stroke="#555" stroke-width="1" fill="none"/>
<polyline points="37,557.5 43.01,557.5 49.03,552.04 61.06,533.82 85.12,509.05 133.25,475.54 229.5,454.41" fill="none" stroke="#222" stroke-width="1.1"/>
<polyline points="37,557.5 43.01,557.5 49.03,552.04 61.06,536.37 85.12,505.41 133.25,464.61 229.5,436.19" fill="none" stroke="#222" stroke-width="1.1"/>
<polyline points="37,557.5 43.01,534.91 49.03,522.89 61.06,491.93 85.12,485.74 133.25,476.26 229.5,459.14" fill="none" stroke="#222" stroke-width="1.1"/>
<polyline points="37,557.5 43.01,538.56 49.03,522.89 61.06,503.95 85.12,477.36 133.25,452.59 229.5,455.5" fill="none" stroke="#222" stroke-width="1.1"/>
<rect x="33.5" y="554" width="7" height="7" fill="#000"/>
<rect x="39.51" y="554" width="7" height="7" fill="#000"/>
<rect x="45.53" y="548.54" width="7" height="7" fill="#000"/>
<rect x="57.56" y="530.32" width="7" height="7" fill="#000"/>
<rect x="81.62" y="505.55" width="7" height="7" fill="#000"/>
<rect x="129.75" y="472.04" width="7" height="7" fill="#000"/>
<rect x="226" y="450.91" width="7" height="7" fill="#000"/>
<rect x="34.1" y="554.6" width="5.8" height="5.8" fill="#fff" stroke="#000" stroke-width="1.2"/>
<rect x="40.11" y="554.6" width="5.8" height="5.8" fill="#fff" stroke="#000" stroke-width="1.2"/>
<rect x="46.13" y="549.14" width="5.8" height="5.8" fill="#fff" stroke="#000" stroke-width="1.2"/>
<rect x="58.16" y="533.47" width="5.8" height="5.8" fill="#fff" stroke="#000" stroke-width="1.2"/>
<rect x="82.22" y="502.51" width="5.8" height="5.8" fill="#fff" stroke="#000" stroke-width="1.2"/>
<rect x="130.35" y="461.71" width="5.8" height="5.8" fill="#fff" stroke="#000" stroke-width="1.2"/>
<rect x="226.6" y="433.29" width="5.8" height="5.8" fill="#fff" stroke="#000" stroke-width="1.2"/>
<circle cx="37" cy="557.5" r="3.5" fill="#000"/>
<circle cx="43.01" cy="534.91" r="3.5" fill="#000"/>
<circle cx="49.03" cy="522.89" r="3.5" fill="#000"/>
<circle cx="61.06" cy="491.93" r="3.5" fill="#000"/>
<circle cx="85.12" cy="485.74" r="3.5" fill="#000"/>
<circle cx="133.25" cy="476.26" r="3.5" fill="#000"/>
<circle cx="229.5" cy="459.14" r="3.5" fill="#000"/>
<circle cx="37" cy="557.5" r="2.9" fill="#fff" stroke="#000" stroke-width="1.2"/>
<circle cx="43.01" cy="538.56" r="2.9" fill="#fff" stroke="#000" stroke-width="1.2"/>
<circle cx="49.03" cy="522.89" r="2.9" fill="#fff" stroke="#000" stroke-width="1.2"/>
<circle cx="61.06" cy="503.95" r="2.9" fill="#fff" stroke="#000" stroke-width="1.2"/>
<circle cx="85.12" cy="477.36" r="2.9" fill="#fff" stroke="#000" stroke-width="1.2"/>
<circle cx="133.25" cy="452.59" r="2.9" fill="#fff" stroke="#000" stroke-width="1.2"/>
<circle cx="229.5" cy="455.5" r="2.9" fill="#fff" stroke="#000" stroke-width="1.2"/>
<path d="M37 567.5H246V695.3H37Z" fill="none" stroke="#555" stroke-width="1"/>
<text x="32.2" y="699.9" font-size="10.2" font-weight="normal" text-anchor="end" fill="#000">0</text>
<text x="32.2" y="685.7" font-size="10.2" font-weight="normal" text-anchor="end" fill="#000">5</text>
<text x="32.2" y="671.5" font-size="10.2" font-weight="normal" text-anchor="end" fill="#000">10</text>
<text x="32.2" y="657.3" font-size="10.2" font-weight="normal" text-anchor="end" fill="#000">15</text>
<text x="32.2" y="643.1" font-size="10.2" font-weight="normal" text-anchor="end" fill="#000">20</text>
<text x="32.2" y="628.9" font-size="10.2" font-weight="normal" text-anchor="end" fill="#000">25</text>
<text x="32.2" y="614.7" font-size="10.2" font-weight="normal" text-anchor="end" fill="#000">30</text>
<text x="32.2" y="600.5" font-size="10.2" font-weight="normal" text-anchor="end" fill="#000">35</text>
<text x="32.2" y="586.3" font-size="10.2" font-weight="normal" text-anchor="end" fill="#000">40</text>
<text x="32.2" y="572.1" font-size="10.2" font-weight="normal" text-anchor="end" fill="#000">45</text>
<path d="M37 695.3h-2.5M37 688.2h-1.5M37 681.1h-2.5M37 674h-1.5M37 666.9h-2.5M37 659.8h-1.5M37 652.7h-2.5M37 645.6h-1.5M37 638.5h-2.5M37 631.4h-1.5M37 624.3h-2.5M37 617.2h-1.5M37 610.1h-2.5M37 603h-1.5M37 595.9h-2.5M37 588.8h-1.5M37 581.7h-2.5M37 574.6h-1.5M37 567.5h-2.5M75.5 695.3v2.5M114 695.3v2.5M152.5 695.3v2.5M191 695.3v2.5M229.5 695.3v2.5" stroke="#555" stroke-width="1" fill="none"/>
<polyline points="37,695.3 49.03,695.3 61.06,693.88 85.12,689.62 133.25,686.78 229.5,684.51" fill="none" stroke="#000" stroke-width="1.4"/>
<polyline points="37,695.3 49.03,695.3 61.06,693.88 85.12,691.04 133.25,681.1 229.5,667.47" fill="none" stroke="#000" stroke-width="1.4"/>
<polyline points="37,695.3 43.01,685.36 49.03,679.4 61.06,666.9 85.12,651.28 133.25,624.87 229.5,598.74" fill="none" stroke="#000" stroke-width="1.4"/>
<polyline points="37,695.3 43.01,685.08 49.03,679.4 61.06,666.9 85.12,641.91 133.25,596.47 229.5,581.7" fill="none" stroke="#000" stroke-width="1.4"/>
<rect x="34" y="692.3" width="6" height="6" fill="#000"/>
<rect x="46.03" y="692.3" width="6" height="6" fill="#000"/>
<rect x="58.06" y="690.88" width="6" height="6" fill="#000"/>
<rect x="82.12" y="686.62" width="6" height="6" fill="#000"/>
<rect x="130.25" y="683.78" width="6" height="6" fill="#000"/>
<rect x="226.5" y="681.51" width="6" height="6" fill="#000"/>
<rect x="34.6" y="692.9" width="4.8" height="4.8" fill="#fff" stroke="#000" stroke-width="1.2"/>
<rect x="46.63" y="692.9" width="4.8" height="4.8" fill="#fff" stroke="#000" stroke-width="1.2"/>
<rect x="58.66" y="691.48" width="4.8" height="4.8" fill="#fff" stroke="#000" stroke-width="1.2"/>
<rect x="82.72" y="688.64" width="4.8" height="4.8" fill="#fff" stroke="#000" stroke-width="1.2"/>
<rect x="130.85" y="678.7" width="4.8" height="4.8" fill="#fff" stroke="#000" stroke-width="1.2"/>
<rect x="227.1" y="665.07" width="4.8" height="4.8" fill="#fff" stroke="#000" stroke-width="1.2"/>
<circle cx="37" cy="695.3" r="3.0" fill="#000"/>
<circle cx="43.01" cy="685.36" r="3.0" fill="#000"/>
<circle cx="49.03" cy="679.4" r="3.0" fill="#000"/>
<circle cx="61.06" cy="666.9" r="3.0" fill="#000"/>
<circle cx="85.12" cy="651.28" r="3.0" fill="#000"/>
<circle cx="133.25" cy="624.87" r="3.0" fill="#000"/>
<circle cx="229.5" cy="598.74" r="3.0" fill="#000"/>
<circle cx="37" cy="695.3" r="2.4" fill="#fff" stroke="#000" stroke-width="1.2"/>
<circle cx="43.01" cy="685.08" r="2.4" fill="#fff" stroke="#000" stroke-width="1.2"/>
<circle cx="49.03" cy="679.4" r="2.4" fill="#fff" stroke="#000" stroke-width="1.2"/>
<circle cx="61.06" cy="666.9" r="2.4" fill="#fff" stroke="#000" stroke-width="1.2"/>
<circle cx="85.12" cy="641.91" r="2.4" fill="#fff" stroke="#000" stroke-width="1.2"/>
<circle cx="133.25" cy="596.47" r="2.4" fill="#fff" stroke="#000" stroke-width="1.2"/>
<circle cx="229.5" cy="581.7" r="2.4" fill="#fff" stroke="#000" stroke-width="1.2"/>
<text x="37" y="709.5" font-size="10" font-weight="normal" text-anchor="middle" fill="#000">0</text>
<text x="75.5" y="709.5" font-size="10" font-weight="normal" text-anchor="middle" fill="#000">1</text>
<text x="114" y="709.5" font-size="10" font-weight="normal" text-anchor="middle" fill="#000">2</text>
<text x="152.5" y="709.5" font-size="10" font-weight="normal" text-anchor="middle" fill="#000">3</text>
<text x="191" y="709.5" font-size="10" font-weight="normal" text-anchor="middle" fill="#000">4</text>
<text x="229.5" y="709.5" font-size="10" font-weight="normal" text-anchor="middle" fill="#000">5</text>
<text x="0" y="0" font-size="14" font-weight="bold" text-anchor="start" fill="#000" transform="translate(11.2,413.7) rotate(-90)">% CD69 positive</text>
<text x="0" y="0" font-size="13.8" font-weight="bold" text-anchor="start" fill="#000" transform="translate(12,524.4) rotate(-90)">% blasts</text>
<text x="0" y="0" font-size="13.6" font-weight="bold" text-anchor="start" fill="#000" transform="translate(10.5,687.6) rotate(-90)">% FI-HA positive</text>
<text x="0" y="0" font-size="12.3" font-weight="bold" text-anchor="middle" fill="#000" transform="translate(136.5,725.9) scale(1.04,1)">μg/mL anti-CD3</text>
<rect x="137.5" y="369.4" width="103.3" height="43.4" fill="none" stroke="#000" stroke-width="1.1"/>
<rect x="140.4" y="373.6" width="6.2" height="6.2" fill="#000"/>
<text x="0" y="0" font-size="8.9" font-weight="bold" text-anchor="start" fill="#000" transform="translate(150.6,379.9) scale(1.085,1)">CD4CD25-</text>
<rect x="141" y="383.7" width="5" height="5" fill="#fff" stroke="#000" stroke-width="1.2"/>
<text x="0" y="0" font-size="8.9" font-weight="bold" text-anchor="start" fill="#000" transform="translate(150.6,389.4) scale(1.085,1)">CD4CD25-(αCD28)</text>
<circle cx="143.5" cy="395.6" r="3.1" fill="#000"/>
<text x="0" y="0" font-size="8.9" font-weight="bold" text-anchor="start" fill="#000" transform="translate(150.6,398.8) scale(1.085,1)">CD4CD25+</text>
<circle cx="143.5" cy="405.3" r="2.5" fill="#fff" stroke="#000" stroke-width="1.2"/>
<text x="0" y="0" font-size="8.9" font-weight="bold" text-anchor="start" fill="#000" transform="translate(150.6,408.5) scale(1.085,1)">CD4CD25+ (αCD28)</text>
<text x="274.6" y="280.3" font-size="24.5" font-weight="bold" text-anchor="start" fill="#000">C</text>
<path d="M314.5 307.5H509.4V469.2H314.5Z" fill="none" stroke="#222" stroke-width="1.2"/>
<text x="0" y="0" font-size="12.8" font-weight="bold" text-anchor="end" fill="#000" transform="translate(310.2,474.1) scale(0.9,1)">0</text>
<text x="0" y="0" font-size="12.8" font-weight="bold" text-anchor="end" fill="#000" transform="translate(310.2,442.94) scale(0.9,1)">20</text>
<text x="0" y="0" font-size="12.8" font-weight="bold" text-anchor="end" fill="#000" transform="translate(310.2,411.78) scale(0.9,1)">40</text>
<text x="0" y="0" font-size="12.8" font-weight="bold" text-anchor="end" fill="#000" transform="translate(310.2,380.62) scale(0.9,1)">60</text>
<text x="0" y="0" font-size="12.8" font-weight="bold" text-anchor="end" fill="#000" transform="translate(310.2,349.46) scale(0.9,1)">80</text>
<text x="0" y="0" font-size="12.8" font-weight="bold" text-anchor="end" fill="#000" transform="translate(310.2,318.3) scale(0.9,1)">100</text>
<path d="M314.5 469.2h-2.5M314.5 453.62h-1.5M314.5 438.04h-2.5M314.5 422.46h-1.5M314.5 406.88h-2.5M314.5 391.3h-1.5M314.5 375.72h-2.5M314.5 360.14h-1.5M314.5 344.56h-2.5M314.5 328.98h-1.5M314.5 313.4h-2.5" stroke="#222" stroke-width="1" fill="none"/>
<rect x="328.5" y="445.99" width="19" height="23.21" fill="#fff" stroke="#111" stroke-width="1.2"/>
<rect x="347.5" y="412.8" width="18.3" height="56.4" fill="#727272" stroke="#111" stroke-width="1.2"/>
<rect x="393" y="424.8" width="18.7" height="44.4" fill="#fff" stroke="#111" stroke-width="1.2"/>
<rect x="411.7" y="358.74" width="18.9" height="110.46" fill="#727272" stroke="#111" stroke-width="1.2"/>
<rect x="458.2" y="431.18" width="19" height="38.02" fill="#fff" stroke="#111" stroke-width="1.2"/>
<rect x="477.2" y="327.42" width="18.6" height="141.78" fill="#727272" stroke="#111" stroke-width="1.2"/>
<path d="M338 434.14V456.74M336.2 434.14h3.6M336.2 456.74h3.6" stroke="#111" stroke-width="1" fill="none"/>
<path d="M357 407.66V418.56M355.2 407.66h3.6M355.2 418.56h3.6" stroke="#111" stroke-width="1" fill="none"/>
<path d="M402.5 412.8V436.79M400.7 412.8h3.6M400.7 436.79h3.6" stroke="#111" stroke-width="1" fill="none"/>
<path d="M421.5 343.31V374.94M419.7 343.31h3.6M419.7 374.94h3.6" stroke="#111" stroke-width="1" fill="none"/>
<path d="M467.7 421.68V441.16M465.9 421.68h3.6M465.9 441.16h3.6" stroke="#111" stroke-width="1" fill="none"/>
<path d="M486 320.88V333.65M484.2 320.88h3.6M484.2 333.65h3.6" stroke="#111" stroke-width="1" fill="none"/>
<text x="355" y="410.2" font-size="22" font-weight="bold" text-anchor="middle" fill="#000">**</text>
<text x="422.2" y="345" font-size="22" font-weight="bold" text-anchor="middle" fill="#000">**</text>
<text x="477.2" y="326.6" font-size="22" font-weight="bold" text-anchor="middle" fill="#000">*</text>
<rect x="322.5" y="320.3" width="80" height="33.5" fill="none" stroke="#000" stroke-width="1.1"/>
<rect x="328" y="327.5" width="7" height="7" fill="#fff" stroke="#000" stroke-width="0.9"/>
<rect x="328" y="342.5" width="7" height="7" fill="#727272" stroke="#000" stroke-width="0.9"/>
<text x="337.5" y="335.5" font-size="12" font-weight="bold" text-anchor="start" fill="#000">CD4CD25-</text>
<text x="337.5" y="350.5" font-size="12" font-weight="bold" text-anchor="start" fill="#000">CD4CD25+</text>
<text x="0" y="0" font-size="15.6" font-weight="bold" text-anchor="start" fill="#000" transform="translate(286.8,447.6) rotate(-90)">% HA positive</text>
<text x="348.3" y="482.7" font-size="11.5" font-weight="bold" text-anchor="middle" fill="#000">18</text>
<text x="412.8" y="482.7" font-size="11.5" font-weight="bold" text-anchor="middle" fill="#000">42</text>
<text x="476.3" y="482.7" font-size="11.5" font-weight="bold" text-anchor="middle" fill="#000">72</text>
<text x="362.2" y="496.5" font-size="12.9" font-weight="bold" text-anchor="start" fill="#000">Hours activation</text>
<line x1="337.6" y1="477" x2="337.6" y2="513" stroke="#000" stroke-width="1.3"/>
<path d="M333.6 512.3 L341.6 512.3 L337.6 523Z" fill="#000"/>
<path d="M357.5 477.8 V499.4 H452.3 V513" stroke="#000" stroke-width="1.3" fill="none"/>
<path d="M448.3 512.3 L456.3 512.3 L452.3 523Z" fill="#000"/>
<text x="355.5" y="539.5" font-size="12.8" font-weight="bold" text-anchor="middle" fill="#000">CD4CD25-</text>
<text x="463" y="539.5" font-size="12.8" font-weight="bold" text-anchor="middle" fill="#000">CD4CD25+</text>
<text x="0" y="0" font-size="13" font-weight="bold" text-anchor="start" fill="#000" transform="translate(294.7,627.6) rotate(-90) scale(0.87,1)">CD44</text>
<text x="384.2" y="710.6" font-size="13" font-weight="bold" text-anchor="start" fill="#000">FI-HA</text>
<rect x="317.3" y="544.2" width="77.5" height="59.2" fill="none" stroke="#000" stroke-width="1.2"/>
<path d="M323.13 603.4v1.5M317.3 598.94h-1.5M326.54 603.4v1.5M317.3 596.34h-1.5M328.96 603.4v1.5M317.3 594.49h-1.5M330.84 603.4v1.5M317.3 593.06h-1.5M332.38 603.4v1.5M317.3 591.88h-1.5M333.67 603.4v1.5M317.3 590.89h-1.5M334.8 603.4v1.5M317.3 590.03h-1.5M335.79 603.4v1.5M317.3 589.28h-1.5M342.51 603.4v1.5M317.3 584.14h-1.5M345.92 603.4v1.5M317.3 581.54h-1.5M348.34 603.4v1.5M317.3 579.69h-1.5M350.22 603.4v1.5M317.3 578.26h-1.5M351.75 603.4v1.5M317.3 577.08h-1.5M353.05 603.4v1.5M317.3 576.09h-1.5M354.17 603.4v1.5M317.3 575.23h-1.5M355.16 603.4v1.5M317.3 574.48h-1.5M361.88 603.4v1.5M317.3 569.34h-1.5M365.29 603.4v1.5M317.3 566.74h-1.5M367.71 603.4v1.5M317.3 564.89h-1.5M369.59 603.4v1.5M317.3 563.46h-1.5M371.13 603.4v1.5M317.3 562.28h-1.5M372.42 603.4v1.5M317.3 561.29h-1.5M373.55 603.4v1.5M317.3 560.43h-1.5M374.54 603.4v1.5M317.3 559.68h-1.5M381.26 603.4v1.5M317.3 554.54h-1.5M384.67 603.4v1.5M317.3 551.94h-1.5M387.09 603.4v1.5M317.3 550.09h-1.5M388.97 603.4v1.5M317.3 548.66h-1.5M390.5 603.4v1.5M317.3 547.48h-1.5M391.8 603.4v1.5M317.3 546.49h-1.5M392.92 603.4v1.5M317.3 545.63h-1.5M393.91 603.4v1.5M317.3 544.88h-1.5M317.3 603.4v3M317.3 603.4h-3M336.68 603.4v3M317.3 588.6h-3M356.05 603.4v3M317.3 573.8h-3M375.43 603.4v3M317.3 559h-3M394.8 603.4v3M317.3 544.2h-3" stroke="#000" stroke-width="0.9" fill="none"/>
<text transform="translate(312.01,617.6) scale(0.7,1)" font-size="9.9" font-weight="normal" stroke="#000" stroke-width="0.45">10</text><text transform="translate(320.11,612.2) scale(0.9,1)" font-size="8" font-weight="normal" stroke="#000" stroke-width="0.45">0</text>
<text transform="translate(311.8,609.19) rotate(-90) scale(0.95,1)" font-size="8.3" font-weight="normal" stroke="#000" stroke-width="0.4">10</text><text transform="translate(306.6,600.4) rotate(-90) scale(1.0,1)" font-size="7.4" font-weight="normal" stroke="#000" stroke-width="0.4">0</text>
<text transform="translate(331.38,617.6) scale(0.7,1)" font-size="9.9" font-weight="normal" stroke="#000" stroke-width="0.45">10</text><text transform="translate(339.49,612.2) scale(0.9,1)" font-size="8" font-weight="normal" stroke="#000" stroke-width="0.45">1</text>
<text transform="translate(311.8,594.39) rotate(-90) scale(0.95,1)" font-size="8.3" font-weight="normal" stroke="#000" stroke-width="0.4">10</text><text transform="translate(306.6,585.6) rotate(-90) scale(1.0,1)" font-size="7.4" font-weight="normal" stroke="#000" stroke-width="0.4">1</text>
<text transform="translate(350.76,617.6) scale(0.7,1)" font-size="9.9" font-weight="normal" stroke="#000" stroke-width="0.45">10</text><text transform="translate(358.86,612.2) scale(0.9,1)" font-size="8" font-weight="normal" stroke="#000" stroke-width="0.45">2</text>
<text transform="translate(311.8,579.59) rotate(-90) scale(0.95,1)" font-size="8.3" font-weight="normal" stroke="#000" stroke-width="0.4">10</text><text transform="translate(306.6,570.8) rotate(-90) scale(1.0,1)" font-size="7.4" font-weight="normal" stroke="#000" stroke-width="0.4">2</text>
<text transform="translate(370.13,617.6) scale(0.7,1)" font-size="9.9" font-weight="normal" stroke="#000" stroke-width="0.45">10</text><text transform="translate(378.24,612.2) scale(0.9,1)" font-size="8" font-weight="normal" stroke="#000" stroke-width="0.45">3</text>
<text transform="translate(311.8,564.79) rotate(-90) scale(0.95,1)" font-size="8.3" font-weight="normal" stroke="#000" stroke-width="0.4">10</text><text transform="translate(306.6,556) rotate(-90) scale(1.0,1)" font-size="7.4" font-weight="normal" stroke="#000" stroke-width="0.4">3</text>
<text transform="translate(389.51,617.6) scale(0.7,1)" font-size="9.9" font-weight="normal" stroke="#000" stroke-width="0.45">10</text><text transform="translate(397.61,612.2) scale(0.9,1)" font-size="8" font-weight="normal" stroke="#000" stroke-width="0.45">4</text>
<text transform="translate(311.8,549.99) rotate(-90) scale(0.95,1)" font-size="8.3" font-weight="normal" stroke="#000" stroke-width="0.4">10</text><text transform="translate(306.6,541.2) rotate(-90) scale(1.0,1)" font-size="7.4" font-weight="normal" stroke="#000" stroke-width="0.4">4</text>
<path d="M317.6 568C319 564.67 323.43 566.7 326 566C328.57 565.3 330.83 564.38 333 563.8C335.17 563.22 336.92 562.67 339 562.5C341.08 562.33 344.42 561.88 345.5 562.8C346.58 563.72 346.08 566.13 345.5 568C344.92 569.87 343.17 572.17 342 574C340.83 575.83 339.67 577.17 338.5 579C337.33 580.83 336.25 583.33 335 585C333.75 586.67 332.5 588.17 331 589C329.5 589.83 327.83 590.08 326 590C324.17 589.92 321.4 589.17 320 588.5C318.6 587.83 318 589.42 317.6 586C317.2 582.58 316.2 571.33 317.6 568Z" stroke="#000" stroke-width="0.6" fill="#000"/>
<path d="M319 567h1.0v1.0h-1.0zM336 583h1.0v1.0h-1.0zM324 563h1.0v1.0h-1.0zM341 579h1.0v1.0h-1.0zM319 594h1.0v1.0h-1.0zM329 562h1.0v1.0h-1.0zM343 561h1.0v1.0h-1.0zM332 588h1.0v1.0h-1.0zM339 581h1.0v1.0h-1.0zM338 583h1.0v1.0h-1.0zM326 563h1.0v1.0h-1.0zM340 580h1.0v1.0h-1.0zM335 559h1.0v1.0h-1.0zM329 589h1.0v1.0h-1.0zM318 589h1.0v1.0h-1.0zM327 564h1.0v1.0h-1.0zM330 563h1.0v1.0h-1.0zM336 585h1.0v1.0h-1.0zM346 562h1.0v1.0h-1.0zM327 591h1.0v1.0h-1.0zM328 556h1.0v1.0h-1.0zM326 593h1.0v1.0h-1.0zM346 571h1.0v1.0h-1.0zM329 564h1.0v1.0h-1.0zM321 590h1.0v1.0h-1.0zM332 590h1.0v1.0h-1.0zM344 573h1.0v1.0h-1.0zM344 582h1.0v1.0h-1.0zM346 564h1.0v1.0h-1.0zM337 561h1.0v1.0h-1.0zM338 560h1.0v1.0h-1.0zM340 557h1.0v1.0h-1.0zM346 573h1.0v1.0h-1.0zM341 586h1.0v1.0h-1.0zM331 563h1.0v1.0h-1.0zM332 592h1.0v1.0h-1.0zM344 557h1.0v1.0h-1.0zM333 591h1.0v1.0h-1.0zM323 589h1.0v1.0h-1.0zM335 563h1.0v1.0h-1.0zM347 565h1.0v1.0h-1.0zM325 562h1.0v1.0h-1.0zM336 562h1.0v1.0h-1.0zM342 578h1.0v1.0h-1.0zM339 588h1.0v1.0h-1.0zM320 593h1.0v1.0h-1.0zM346 566h1.0v1.0h-1.0zM328 560h1.0v1.0h-1.0zM338 562h1.0v1.0h-1.0zM338 580h1.0v1.0h-1.0zM340 577h1.0v1.0h-1.0zM323 591h1.0v1.0h-1.0zM324 590h1.0v1.0h-1.0zM345 567h1.0v1.0h-1.0zM344 577h1.0v1.0h-1.0zM341 560h1.0v1.0h-1.0zM337 593h1.0v1.0h-1.0zM328 590h1.0v1.0h-1.0zM343 579h1.0v1.0h-1.0zM334 585h1.0v1.0h-1.0zM319 566h1.0v1.0h-1.0zM336 591h1.0v1.0h-1.0zM325 591h1.0v1.0h-1.0zM326 590h1.0v1.0h-1.0zM323 566h1.0v1.0h-1.0zM339 562h1.0v1.0h-1.0zM330 590h1.0v1.0h-1.0zM333 586h1.0v1.0h-1.0zM338 582h1.0v1.0h-1.0zM344 561h1.0v1.0h-1.0zM344 570h1.0v1.0h-1.0zM345 569h1.0v1.0h-1.0zM344 579h1.0v1.0h-1.0zM326 565h1.0v1.0h-1.0zM345 578h1.0v1.0h-1.0zM331 588h1.0v1.0h-1.0zM336 584h1.0v1.0h-1.0zM331 597h1.0v1.0h-1.0zM346 570h1.0v1.0h-1.0zM330 592h1.0v1.0h-1.0zM321 589h1.0v1.0h-1.0zM324 594h1.0v1.0h-1.0zM342 575h1.0v1.0h-1.0zM344 572h1.0v1.0h-1.0zM343 574h1.0v1.0h-1.0zM345 580h1.0v1.0h-1.0zM328 594h1.0v1.0h-1.0zM329 593h1.0v1.0h-1.0zM331 590h1.0v1.0h-1.0zM320 590h1.0v1.0h-1.0zM334 589h1.0v1.0h-1.0zM341 576h1.0v1.0h-1.0zM335 590h1.0v1.0h-1.0zM321 591h1.0v1.0h-1.0zM336 552h1.0v1.0h-1.0zM335 562h1.0v1.0h-1.0zM345 564h1.0v1.0h-1.0zM339 578h1.0v1.0h-1.0zM344 574h1.0v1.0h-1.0zM345 573h1.0v1.0h-1.0zM331 592h1.0v1.0h-1.0zM321 566h1.0v1.0h-1.0zM346 565h1.0v1.0h-1.0zM323 563h1.0v1.0h-1.0zM322 565h1.0v1.0h-1.0zM338 561h1.0v1.0h-1.0zM341 578h1.0v1.0h-1.0zM342 561h1.0v1.0h-1.0zM343 560h1.0v1.0h-1.0zM334 557h1.0v1.0h-1.0zM345 566h1.0v1.0h-1.0zM325 563h1.0v1.0h-1.0zM339 580h1.0v1.0h-1.0zM340 579h1.0v1.0h-1.0zM345 575h1.0v1.0h-1.0zM337 592h1.0v1.0h-1.0zM318 588h1.0v1.0h-1.0zM319 565h1.0v1.0h-1.0zM335 585h1.0v1.0h-1.0zM323 565h1.0v1.0h-1.0zM341 580h1.0v1.0h-1.0zM336 593h1.0v1.0h-1.0zM327 590h1.0v1.0h-1.0zM330 589h1.0v1.0h-1.0zM341 589h1.0v1.0h-1.0zM328 564h1.0v1.0h-1.0zM345 559h1.0v1.0h-1.0zM343 571h1.0v1.0h-1.0zM345 568h1.0v1.0h-1.0zM325 565h1.0v1.0h-1.0zM338 584h1.0v1.0h-1.0zM340 581h1.0v1.0h-1.0zM337 585h1.0v1.0h-1.0zM337 594h1.0v1.0h-1.0zM328 591h1.0v1.0h-1.0zM346 560h1.0v1.0h-1.0zM335 587h1.0v1.0h-1.0zM327 592h1.0v1.0h-1.0zM330 591h1.0v1.0h-1.0zM333 587h1.0v1.0h-1.0zM331 562h1.0v1.0h-1.0zM334 561h1.0v1.0h-1.0zM345 561h1.0v1.0h-1.0zM343 573h1.0v1.0h-1.0zM345 570h1.0v1.0h-1.0zM339 584h1.0v1.0h-1.0zM337 587h1.0v1.0h-1.0zM338 586h1.0v1.0h-1.0zM328 593h1.0v1.0h-1.0zM320 589h1.0v1.0h-1.0zM333 562h1.0v1.0h-1.0zM341 575h1.0v1.0h-1.0zM335 589h1.0v1.0h-1.0zM322 589h1.0v1.0h-1.0zM346 583h1.0v1.0h-1.0zM345 563h1.0v1.0h-1.0zM336 560h1.0v1.0h-1.0zM339 577h1.0v1.0h-1.0zM340 576h1.0v1.0h-1.0zM323 590h1.0v1.0h-1.0zM345 572h1.0v1.0h-1.0zM321 593h1.0v1.0h-1.0zM340 585h1.0v1.0h-1.0zM320 591h1.0v1.0h-1.0zM347 575h1.0v1.0h-1.0zM342 588h1.0v1.0h-1.0zM341 577h1.0v1.0h-1.0zM343 559h1.0v1.0h-1.0zM337 582h1.0v1.0h-1.0zM339 579h1.0v1.0h-1.0zM338 581h1.0v1.0h-1.0zM326 561h1.0v1.0h-1.0zM343 577h1.0v1.0h-1.0zM337 591h1.0v1.0h-1.0zM347 559h1.0v1.0h-1.0zM323 592h1.0v1.0h-1.0zM340 578h1.0v1.0h-1.0zM344 569h1.0v1.0h-1.0zM327 562h1.0v1.0h-1.0zM330 561h1.0v1.0h-1.0zM332 558h1.0v1.0h-1.0zM333 557h1.0v1.0h-1.0zM335 584h1.0v1.0h-1.0z" fill="#666"/>
<path d="M334 586h1.0v1.0h-1.0zM322 566h1.0v1.0h-1.0zM336 583h1.0v1.0h-1.0zM341 579h1.0v1.0h-1.0zM325 592h1.0v1.0h-1.0zM327 589h1.0v1.0h-1.0zM329 562h1.0v1.0h-1.0zM332 588h1.0v1.0h-1.0zM339 581h1.0v1.0h-1.0zM338 583h1.0v1.0h-1.0zM344 562h1.0v1.0h-1.0zM347 561h1.0v1.0h-1.0zM329 589h1.0v1.0h-1.0zM344 571h1.0v1.0h-1.0zM330 563h1.0v1.0h-1.0zM332 560h1.0v1.0h-1.0zM335 586h1.0v1.0h-1.0zM334 588h1.0v1.0h-1.0zM346 562h1.0v1.0h-1.0zM327 591h1.0v1.0h-1.0zM326 593h1.0v1.0h-1.0zM346 571h1.0v1.0h-1.0zM329 564h1.0v1.0h-1.0zM320 561h1.0v1.0h-1.0zM321 590h1.0v1.0h-1.0zM337 586h1.0v1.0h-1.0zM340 582h1.0v1.0h-1.0zM342 576h1.0v1.0h-1.0zM344 573h1.0v1.0h-1.0zM329 591h1.0v1.0h-1.0zM336 587h1.0v1.0h-1.0zM323 562h1.0v1.0h-1.0zM346 564h1.0v1.0h-1.0zM338 560h1.0v1.0h-1.0zM318 566h1.0v1.0h-1.0zM331 563h1.0v1.0h-1.0zM323 589h1.0v1.0h-1.0zM333 591h1.0v1.0h-1.0zM347 565h1.0v1.0h-1.0zM336 562h1.0v1.0h-1.0zM342 578h1.0v1.0h-1.0zM345 574h1.0v1.0h-1.0zM320 593h1.0v1.0h-1.0zM323 564h1.0v1.0h-1.0zM338 562h1.0v1.0h-1.0zM338 580h1.0v1.0h-1.0zM342 562h1.0v1.0h-1.0zM324 590h1.0v1.0h-1.0zM347 567h1.0v1.0h-1.0zM341 560h1.0v1.0h-1.0zM328 590h1.0v1.0h-1.0zM334 585h1.0v1.0h-1.0zM336 582h1.0v1.0h-1.0zM346 559h1.0v1.0h-1.0zM326 590h1.0v1.0h-1.0zM346 568h1.0v1.0h-1.0zM339 562h1.0v1.0h-1.0zM330 590h1.0v1.0h-1.0zM332 587h1.0v1.0h-1.0zM338 582h1.0v1.0h-1.0zM342 573h1.0v1.0h-1.0zM343 572h1.0v1.0h-1.0zM345 569h1.0v1.0h-1.0zM326 565h1.0v1.0h-1.0zM320 588h1.0v1.0h-1.0zM334 587h1.0v1.0h-1.0zM336 584h1.0v1.0h-1.0zM331 588h1.0v1.0h-1.0zM346 561h1.0v1.0h-1.0zM338 557h1.0v1.0h-1.0zM341 574h1.0v1.0h-1.0zM332 589h1.0v1.0h-1.0zM333 588h1.0v1.0h-1.0zM345 562h1.0v1.0h-1.0zM342 575h1.0v1.0h-1.0zM344 572h1.0v1.0h-1.0zM343 574h1.0v1.0h-1.0zM327 565h1.0v1.0h-1.0zM328 594h1.0v1.0h-1.0zM320 590h1.0v1.0h-1.0zM326 594h1.0v1.0h-1.0zM341 576h1.0v1.0h-1.0zM332 591h1.0v1.0h-1.0zM337 581h1.0v1.0h-1.0zM339 578h1.0v1.0h-1.0zM345 564h1.0v1.0h-1.0zM343 576h1.0v1.0h-1.0zM331 592h1.0v1.0h-1.0zM346 565h1.0v1.0h-1.0zM341 578h1.0v1.0h-1.0zM328 562h1.0v1.0h-1.0zM342 561h1.0v1.0h-1.0zM322 592h1.0v1.0h-1.0zM345 566h1.0v1.0h-1.0zM339 580h1.0v1.0h-1.0zM343 578h1.0v1.0h-1.0zM328 589h1.0v1.0h-1.0zM341 562h1.0v1.0h-1.0zM335 585h1.0v1.0h-1.0zM325 593h1.0v1.0h-1.0zM327 590h1.0v1.0h-1.0zM330 589h1.0v1.0h-1.0zM328 564h1.0v1.0h-1.0zM343 562h1.0v1.0h-1.0zM324 591h1.0v1.0h-1.0zM343 571h1.0v1.0h-1.0zM337 585h1.0v1.0h-1.0zM325 565h1.0v1.0h-1.0zM338 584h1.0v1.0h-1.0zM345 568h1.0v1.0h-1.0zM326 564h1.0v1.0h-1.0zM345 577h1.0v1.0h-1.0zM329 590h1.0v1.0h-1.0zM347 571h1.0v1.0h-1.0zM330 591h1.0v1.0h-1.0zM319 588h1.0v1.0h-1.0zM333 587h1.0v1.0h-1.0zM318 565h1.0v1.0h-1.0zM345 561h1.0v1.0h-1.0zM343 573h1.0v1.0h-1.0zM337 587h1.0v1.0h-1.0zM347 564h1.0v1.0h-1.0zM320 589h1.0v1.0h-1.0zM331 589h1.0v1.0h-1.0zM332 563h1.0v1.0h-1.0zM333 562h1.0v1.0h-1.0zM341 575h1.0v1.0h-1.0zM337 562h1.0v1.0h-1.0zM322 589h1.0v1.0h-1.0zM331 564h1.0v1.0h-1.0zM334 563h1.0v1.0h-1.0zM345 563h1.0v1.0h-1.0zM338 579h1.0v1.0h-1.0zM336 560h1.0v1.0h-1.0zM323 590h1.0v1.0h-1.0zM345 572h1.0v1.0h-1.0zM338 588h1.0v1.0h-1.0zM347 566h1.0v1.0h-1.0zM332 556h1.0v1.0h-1.0zM321 565h1.0v1.0h-1.0zM341 577h1.0v1.0h-1.0zM325 590h1.0v1.0h-1.0zM346 567h1.0v1.0h-1.0zM340 560h1.0v1.0h-1.0zM320 566h1.0v1.0h-1.0zM345 565h1.0v1.0h-1.0zM337 582h1.0v1.0h-1.0zM338 581h1.0v1.0h-1.0zM340 578h1.0v1.0h-1.0zM323 592h1.0v1.0h-1.0zM339 579h1.0v1.0h-1.0zM344 569h1.0v1.0h-1.0zM347 568h1.0v1.0h-1.0zM344 578h1.0v1.0h-1.0zM335 584h1.0v1.0h-1.0zM331 599h1.0v1.0h-1.0zM326 594h1.0v1.0h-1.0zM339 594h1.0v1.0h-1.0zM325 598h1.0v1.0h-1.0zM325 595h1.0v1.0h-1.0zM327 595h1.0v1.0h-1.0zM332 591h1.0v1.0h-1.0zM330 597h1.0v1.0h-1.0zM332 597h1.0v1.0h-1.0zM324 596h1.0v1.0h-1.0zM338 595h1.0v1.0h-1.0zM329 592h1.0v1.0h-1.0zM328 596h1.0v1.0h-1.0zM329 595h1.0v1.0h-1.0zM328 599h1.0v1.0h-1.0zM331 595h1.0v1.0h-1.0zM342 595h1.0v1.0h-1.0zM326 590h1.0v1.0h-1.0zM325 594h1.0v1.0h-1.0zM327 591h1.0v1.0h-1.0zM325 597h1.0v1.0h-1.0zM328 597h1.0v1.0h-1.0zM326 596h1.0v1.0h-1.0zM333 589h1.0v1.0h-1.0zM330 596h1.0v1.0h-1.0zM330 590h1.0v1.0h-1.0zM320 596h1.0v1.0h-1.0zM327 600h1.0v1.0h-1.0zM323 593h1.0v1.0h-1.0zM330 602h1.0v1.0h-1.0zM321 593h1.0v1.0h-1.0zM332 593h1.0v1.0h-1.0zM333 598h1.0v1.0h-1.0zM322 598h1.0v1.0h-1.0zM337 595h1.0v1.0h-1.0zM331 591h1.0v1.0h-1.0zM339 592h1.0v1.0h-1.0zM328 592h1.0v1.0h-1.0zM318 597h1.0v1.0h-1.0zM331 594h1.0v1.0h-1.0zM320 594h1.0v1.0h-1.0zM339 595h1.0v1.0h-1.0zM328 598h1.0v1.0h-1.0zM331 597h1.0v1.0h-1.0zM342 597h1.0v1.0h-1.0zM340 600h1.0v1.0h-1.0zM326 592h1.0v1.0h-1.0zM325 596h1.0v1.0h-1.0zM327 593h1.0v1.0h-1.0zM335 594h1.0v1.0h-1.0zM325 593h1.0v1.0h-1.0zM325 599h1.0v1.0h-1.0zM330 595h1.0v1.0h-1.0zM332 592h1.0v1.0h-1.0zM332 598h1.0v1.0h-1.0zM322 591h1.0v1.0h-1.0zM332 595h1.0v1.0h-1.0zM332 601h1.0v1.0h-1.0zM323 595h1.0v1.0h-1.0zM323 601h1.0v1.0h-1.0zM328 591h1.0v1.0h-1.0zM318 590h1.0v1.0h-1.0zM329 596h1.0v1.0h-1.0zM328 594h1.0v1.0h-1.0zM340 593h1.0v1.0h-1.0zM343 592h1.0v1.0h-1.0zM331 596h1.0v1.0h-1.0zM356 558h1.0v1.0h-1.0zM355 560h1.0v1.0h-1.0zM370 554h1.0v1.0h-1.0zM356 564h1.0v1.0h-1.0zM369 552h1.0v1.0h-1.0zM357 560h1.0v1.0h-1.0zM347 567h1.0v1.0h-1.0zM360 561h1.0v1.0h-1.0zM363 560h1.0v1.0h-1.0zM363 563h1.0v1.0h-1.0zM365 557h1.0v1.0h-1.0zM355 562h1.0v1.0h-1.0zM356 563h1.0v1.0h-1.0zM346 562h1.0v1.0h-1.0zM371 555h1.0v1.0h-1.0zM348 562h1.0v1.0h-1.0zM362 561h1.0v1.0h-1.0zM361 559h1.0v1.0h-1.0zM366 555h1.0v1.0h-1.0zM366 558h1.0v1.0h-1.0zM358 560h1.0v1.0h-1.0zM347 563h1.0v1.0h-1.0zM358 563h1.0v1.0h-1.0zM372 556h1.0v1.0h-1.0zM359 562h1.0v1.0h-1.0zM360 560h1.0v1.0h-1.0zM349 563h1.0v1.0h-1.0zM355 561h1.0v1.0h-1.0zM352 568h1.0v1.0h-1.0zM356 562h1.0v1.0h-1.0zM355 564h1.0v1.0h-1.0zM351 563h1.0v1.0h-1.0zM367 556h1.0v1.0h-1.0zM359 558h1.0v1.0h-1.0zM359 561h1.0v1.0h-1.0zM347 565h1.0v1.0h-1.0zM350 561h1.0v1.0h-1.0zM347 562h1.0v1.0h-1.0zM350 564h1.0v1.0h-1.0zM352 561h1.0v1.0h-1.0zM346 560h1.0v1.0h-1.0zM368 577h1.0v1.0h-1.0zM372 581h1.0v1.0h-1.0zM358 590h1.0v1.0h-1.0z" fill="#000"/>
<path d="M323 567h1.0v1.0h-1.0zM323 570h1.0v1.0h-1.0zM321 582h1.0v1.0h-1.0zM338 565h1.0v1.0h-1.0zM340 574h1.0v1.0h-1.0zM334 564h1.0v1.0h-1.0zM326 566h1.0v1.0h-1.0zM345 567h1.0v1.0h-1.0zM336 579h1.0v1.0h-1.0zM341 563h1.0v1.0h-1.0zM327 588h1.0v1.0h-1.0zM328 565h1.0v1.0h-1.0zM343 563h1.0v1.0h-1.0zM337 577h1.0v1.0h-1.0zM333 586h1.0v1.0h-1.0zM342 564h1.0v1.0h-1.0zM325 566h1.0v1.0h-1.0zM330 565h1.0v1.0h-1.0zM341 565h1.0v1.0h-1.0zM341 571h1.0v1.0h-1.0zM322 567h1.0v1.0h-1.0zM324 567h1.0v1.0h-1.0zM330 586h1.0v1.0h-1.0zM331 566h1.0v1.0h-1.0zM323 583h1.0v1.0h-1.0zM329 584h1.0v1.0h-1.0zM327 568h1.0v1.0h-1.0z" fill="#fff"/>
<line x1="346.3" y1="544.2" x2="346.3" y2="603.4" stroke="#000" stroke-width="1.2"/>
<line x1="317.3" y1="573.6" x2="394.8" y2="573.6" stroke="#000" stroke-width="1.2"/>
<text x="0" y="0" font-size="12.3" font-weight="bold" text-anchor="start" fill="#000" transform="translate(319.6,554.5) scale(0.97,1)">32%</text>
<text x="0" y="0" font-size="12.8" font-weight="bold" text-anchor="end" fill="#000" transform="translate(393.4,571) scale(0.93,1)">10%</text>
<text x="0" y="0" font-size="12.8" font-weight="bold" text-anchor="end" fill="#000" transform="translate(393.4,600) scale(0.93,1)">3%</text>
<rect x="424.3" y="544.2" width="78.9" height="59.2" fill="none" stroke="#000" stroke-width="1.2"/>
<path d="M430.24 603.4v1.5M424.3 598.94h-1.5M433.71 603.4v1.5M424.3 596.34h-1.5M436.18 603.4v1.5M424.3 594.49h-1.5M438.09 603.4v1.5M424.3 593.06h-1.5M439.65 603.4v1.5M424.3 591.88h-1.5M440.97 603.4v1.5M424.3 590.89h-1.5M442.11 603.4v1.5M424.3 590.03h-1.5M443.12 603.4v1.5M424.3 589.28h-1.5M449.96 603.4v1.5M424.3 584.14h-1.5M453.44 603.4v1.5M424.3 581.54h-1.5M455.9 603.4v1.5M424.3 579.69h-1.5M457.81 603.4v1.5M424.3 578.26h-1.5M459.37 603.4v1.5M424.3 577.08h-1.5M460.69 603.4v1.5M424.3 576.09h-1.5M461.84 603.4v1.5M424.3 575.23h-1.5M462.85 603.4v1.5M424.3 574.48h-1.5M469.69 603.4v1.5M424.3 569.34h-1.5M473.16 603.4v1.5M424.3 566.74h-1.5M475.63 603.4v1.5M424.3 564.89h-1.5M477.54 603.4v1.5M424.3 563.46h-1.5M479.1 603.4v1.5M424.3 562.28h-1.5M480.42 603.4v1.5M424.3 561.29h-1.5M481.56 603.4v1.5M424.3 560.43h-1.5M482.57 603.4v1.5M424.3 559.68h-1.5M489.41 603.4v1.5M424.3 554.54h-1.5M492.89 603.4v1.5M424.3 551.94h-1.5M495.35 603.4v1.5M424.3 550.09h-1.5M497.26 603.4v1.5M424.3 548.66h-1.5M498.82 603.4v1.5M424.3 547.48h-1.5M500.14 603.4v1.5M424.3 546.49h-1.5M501.29 603.4v1.5M424.3 545.63h-1.5M502.3 603.4v1.5M424.3 544.88h-1.5M424.3 603.4v3M424.3 603.4h-3M444.02 603.4v3M424.3 588.6h-3M463.75 603.4v3M424.3 573.8h-3M483.48 603.4v3M424.3 559h-3M503.2 603.4v3M424.3 544.2h-3" stroke="#000" stroke-width="0.9" fill="none"/>
<text transform="translate(419.01,617.6) scale(0.7,1)" font-size="9.9" font-weight="normal" stroke="#000" stroke-width="0.45">10</text><text transform="translate(427.11,612.2) scale(0.9,1)" font-size="8" font-weight="normal" stroke="#000" stroke-width="0.45">0</text>
<text transform="translate(418.8,609.19) rotate(-90) scale(0.95,1)" font-size="8.3" font-weight="normal" stroke="#000" stroke-width="0.4">10</text><text transform="translate(413.6,600.4) rotate(-90) scale(1.0,1)" font-size="7.4" font-weight="normal" stroke="#000" stroke-width="0.4">0</text>
<text transform="translate(438.73,617.6) scale(0.7,1)" font-size="9.9" font-weight="normal" stroke="#000" stroke-width="0.45">10</text><text transform="translate(446.84,612.2) scale(0.9,1)" font-size="8" font-weight="normal" stroke="#000" stroke-width="0.45">1</text>
<text transform="translate(418.8,594.39) rotate(-90) scale(0.95,1)" font-size="8.3" font-weight="normal" stroke="#000" stroke-width="0.4">10</text><text transform="translate(413.6,585.6) rotate(-90) scale(1.0,1)" font-size="7.4" font-weight="normal" stroke="#000" stroke-width="0.4">1</text>
<text transform="translate(458.46,617.6) scale(0.7,1)" font-size="9.9" font-weight="normal" stroke="#000" stroke-width="0.45">10</text><text transform="translate(466.56,612.2) scale(0.9,1)" font-size="8" font-weight="normal" stroke="#000" stroke-width="0.45">2</text>
<text transform="translate(418.8,579.59) rotate(-90) scale(0.95,1)" font-size="8.3" font-weight="normal" stroke="#000" stroke-width="0.4">10</text><text transform="translate(413.6,570.8) rotate(-90) scale(1.0,1)" font-size="7.4" font-weight="normal" stroke="#000" stroke-width="0.4">2</text>
<text transform="translate(478.18,617.6) scale(0.7,1)" font-size="9.9" font-weight="normal" stroke="#000" stroke-width="0.45">10</text><text transform="translate(486.29,612.2) scale(0.9,1)" font-size="8" font-weight="normal" stroke="#000" stroke-width="0.45">3</text>
<text transform="translate(418.8,564.79) rotate(-90) scale(0.95,1)" font-size="8.3" font-weight="normal" stroke="#000" stroke-width="0.4">10</text><text transform="translate(413.6,556) rotate(-90) scale(1.0,1)" font-size="7.4" font-weight="normal" stroke="#000" stroke-width="0.4">3</text>
<text transform="translate(497.91,617.6) scale(0.7,1)" font-size="9.9" font-weight="normal" stroke="#000" stroke-width="0.45">10</text><text transform="translate(506.01,612.2) scale(0.9,1)" font-size="8" font-weight="normal" stroke="#000" stroke-width="0.45">4</text>
<text transform="translate(418.8,549.99) rotate(-90) scale(0.95,1)" font-size="8.3" font-weight="normal" stroke="#000" stroke-width="0.4">10</text><text transform="translate(413.6,541.2) rotate(-90) scale(1.0,1)" font-size="7.4" font-weight="normal" stroke="#000" stroke-width="0.4">4</text>
<path d="M424.8 566C426 562.08 429.47 563.83 432 563C434.53 562.17 437.33 561.67 440 561C442.67 560.33 446 559 448 559C450 559 451.5 559.83 452 561C452.5 562.17 451.83 564.17 451 566C450.17 567.83 448.17 570.17 447 572C445.83 573.83 445.17 575.5 444 577C442.83 578.5 441.5 579.83 440 581C438.5 582.17 437 583.08 435 584C433 584.92 429.7 586.08 428 586.5C426.3 586.92 425.33 589.92 424.8 586.5C424.27 583.08 423.6 569.92 424.8 566Z" stroke="#000" stroke-width="0.6" fill="#000"/>
<path d="M445 559C446.67 556.67 455.5 556.2 460 555C464.5 553.8 468.67 552.67 472 551.8C475.33 550.93 477.75 550.13 480 549.8C482.25 549.47 484.58 549.35 485.5 549.8C486.42 550.25 486.75 551.38 485.5 552.5C484.25 553.62 481.25 555 478 556.5C474.75 558 469.67 559.75 466 561.5C462.33 563.25 458.67 565.75 456 567C453.33 568.25 451.83 570.33 450 569C448.17 567.67 443.33 561.33 445 559Z" stroke="#111" stroke-width="0.6" fill="#111"/>
<path d="M451 570h1.0v1.0h-1.0zM445 581h1.0v1.0h-1.0zM435 561h1.0v1.0h-1.0zM447 572h1.0v1.0h-1.0zM449 569h1.0v1.0h-1.0zM427 587h1.0v1.0h-1.0zM427 596h1.0v1.0h-1.0zM443 559h1.0v1.0h-1.0zM437 582h1.0v1.0h-1.0zM443 577h1.0v1.0h-1.0zM445 574h1.0v1.0h-1.0zM443 586h1.0v1.0h-1.0zM446 557h1.0v1.0h-1.0zM426 588h1.0v1.0h-1.0zM452 570h1.0v1.0h-1.0zM439 582h1.0v1.0h-1.0zM441 579h1.0v1.0h-1.0zM447 574h1.0v1.0h-1.0zM432 585h1.0v1.0h-1.0zM433 584h1.0v1.0h-1.0zM445 558h1.0v1.0h-1.0zM448 584h1.0v1.0h-1.0zM437 584h1.0v1.0h-1.0zM438 583h1.0v1.0h-1.0zM440 580h1.0v1.0h-1.0zM443 579h1.0v1.0h-1.0zM445 576h1.0v1.0h-1.0zM440 589h1.0v1.0h-1.0zM431 586h1.0v1.0h-1.0zM430 588h1.0v1.0h-1.0zM429 598h1.0v1.0h-1.0zM432 560h1.0v1.0h-1.0zM430 597h1.0v1.0h-1.0zM436 585h1.0v1.0h-1.0zM439 584h1.0v1.0h-1.0zM442 580h1.0v1.0h-1.0zM428 590h1.0v1.0h-1.0zM433 586h1.0v1.0h-1.0zM446 580h1.0v1.0h-1.0zM448 577h1.0v1.0h-1.0zM440 582h1.0v1.0h-1.0zM452 556h1.0v1.0h-1.0zM430 590h1.0v1.0h-1.0zM450 568h1.0v1.0h-1.0zM444 582h1.0v1.0h-1.0zM432 562h1.0v1.0h-1.0zM433 561h1.0v1.0h-1.0zM452 574h1.0v1.0h-1.0zM436 587h1.0v1.0h-1.0zM441 583h1.0v1.0h-1.0zM427 593h1.0v1.0h-1.0zM428 592h1.0v1.0h-1.0zM454 556h1.0v1.0h-1.0zM433 588h1.0v1.0h-1.0zM448 570h1.0v1.0h-1.0zM434 562h1.0v1.0h-1.0zM437 588h1.0v1.0h-1.0zM439 561h1.0v1.0h-1.0zM441 558h1.0v1.0h-1.0zM442 557h1.0v1.0h-1.0zM425 589h1.0v1.0h-1.0zM439 588h1.0v1.0h-1.0zM440 559h1.0v1.0h-1.0zM446 575h1.0v1.0h-1.0zM448 572h1.0v1.0h-1.0zM451 571h1.0v1.0h-1.0zM431 556h1.0v1.0h-1.0zM449 571h1.0v1.0h-1.0zM443 558h1.0v1.0h-1.0zM426 560h1.0v1.0h-1.0zM428 557h1.0v1.0h-1.0zM429 586h1.0v1.0h-1.0zM430 585h1.0v1.0h-1.0zM444 577h1.0v1.0h-1.0zM441 560h1.0v1.0h-1.0zM442 559h1.0v1.0h-1.0zM447 555h1.0v1.0h-1.0zM445 585h1.0v1.0h-1.0zM435 562h1.0v1.0h-1.0zM427 588h1.0v1.0h-1.0zM448 556h1.0v1.0h-1.0zM428 587h1.0v1.0h-1.0zM446 577h1.0v1.0h-1.0zM448 574h1.0v1.0h-1.0zM443 560h1.0v1.0h-1.0zM449 573h1.0v1.0h-1.0zM446 586h1.0v1.0h-1.0zM437 583h1.0v1.0h-1.0zM426 562h1.0v1.0h-1.0zM430 587h1.0v1.0h-1.0zM444 579h1.0v1.0h-1.0zM452 571h1.0v1.0h-1.0zM436 584h1.0v1.0h-1.0zM439 583h1.0v1.0h-1.0zM442 579h1.0v1.0h-1.0zM437 558h1.0v1.0h-1.0zM426 592h1.0v1.0h-1.0zM429 563h1.0v1.0h-1.0zM430 562h1.0v1.0h-1.0zM432 589h1.0v1.0h-1.0zM437 585h1.0v1.0h-1.0zM440 581h1.0v1.0h-1.0zM442 554h1.0v1.0h-1.0zM443 583h1.0v1.0h-1.0zM428 564h1.0v1.0h-1.0zM433 560h1.0v1.0h-1.0zM435 557h1.0v1.0h-1.0zM434 589h1.0v1.0h-1.0zM425 586h1.0v1.0h-1.0zM442 581h1.0v1.0h-1.0zM438 559h1.0v1.0h-1.0zM441 585h1.0v1.0h-1.0zM431 562h1.0v1.0h-1.0zM446 581h1.0v1.0h-1.0zM447 580h1.0v1.0h-1.0zM432 591h1.0v1.0h-1.0zM433 590h1.0v1.0h-1.0zM435 587h1.0v1.0h-1.0zM425 561h1.0v1.0h-1.0zM439 560h1.0v1.0h-1.0zM436 561h1.0v1.0h-1.0zM445 573h1.0v1.0h-1.0zM444 583h1.0v1.0h-1.0zM436 588h1.0v1.0h-1.0zM446 556h1.0v1.0h-1.0zM426 587h1.0v1.0h-1.0zM425 588h1.0v1.0h-1.0zM443 557h1.0v1.0h-1.0zM446 574h1.0v1.0h-1.0zM447 573h1.0v1.0h-1.0zM425 563h1.0v1.0h-1.0zM441 559h1.0v1.0h-1.0zM443 578h1.0v1.0h-1.0zM445 575h1.0v1.0h-1.0zM431 585h1.0v1.0h-1.0zM447 557h1.0v1.0h-1.0zM428 586h1.0v1.0h-1.0zM441 580h1.0v1.0h-1.0zM440 560h1.0v1.0h-1.0zM441 589h1.0v1.0h-1.0zM432 586h1.0v1.0h-1.0zM449 581h1.0v1.0h-1.0zM434 559h1.0v1.0h-1.0zM451 575h1.0v1.0h-1.0zM430 586h1.0v1.0h-1.0zM425 565h1.0v1.0h-1.0zM445 577h1.0v1.0h-1.0zM448 557h1.0v1.0h-1.0zM426 591h1.0v1.0h-1.0zM441 582h1.0v1.0h-1.0zM430 561h1.0v1.0h-1.0zM441 591h1.0v1.0h-1.0zM449 574h1.0v1.0h-1.0zM435 584h1.0v1.0h-1.0zM451 568h1.0v1.0h-1.0zM434 561h1.0v1.0h-1.0zM453 574h1.0v1.0h-1.0zM444 580h1.0v1.0h-1.0zM434 588h1.0v1.0h-1.0zM449 576h1.0v1.0h-1.0zM473 558h1.0v1.0h-1.0zM454 569h1.0v1.0h-1.0zM478 560h1.0v1.0h-1.0zM469 551h1.0v1.0h-1.0zM444 558h1.0v1.0h-1.0zM482 554h1.0v1.0h-1.0zM458 566h1.0v1.0h-1.0zM474 550h1.0v1.0h-1.0zM459 565h1.0v1.0h-1.0zM452 553h1.0v1.0h-1.0zM488 552h1.0v1.0h-1.0zM459 568h1.0v1.0h-1.0zM465 553h1.0v1.0h-1.0zM466 564h1.0v1.0h-1.0zM481 546h1.0v1.0h-1.0zM464 564h1.0v1.0h-1.0zM455 567h1.0v1.0h-1.0zM479 558h1.0v1.0h-1.0zM481 555h1.0v1.0h-1.0zM478 557h1.0v1.0h-1.0zM471 551h1.0v1.0h-1.0zM457 567h1.0v1.0h-1.0zM485 553h1.0v1.0h-1.0zM486 548h1.0v1.0h-1.0zM484 554h1.0v1.0h-1.0zM460 566h1.0v1.0h-1.0zM473 563h1.0v1.0h-1.0zM451 569h1.0v1.0h-1.0zM477 557h1.0v1.0h-1.0zM454 568h1.0v1.0h-1.0zM468 561h1.0v1.0h-1.0zM450 555h1.0v1.0h-1.0zM483 555h1.0v1.0h-1.0zM452 555h1.0v1.0h-1.0zM486 549h1.0v1.0h-1.0zM474 558h1.0v1.0h-1.0zM448 571h1.0v1.0h-1.0zM464 563h1.0v1.0h-1.0zM446 557h1.0v1.0h-1.0zM481 554h1.0v1.0h-1.0zM480 556h1.0v1.0h-1.0zM452 570h1.0v1.0h-1.0zM481 557h1.0v1.0h-1.0zM449 556h1.0v1.0h-1.0zM485 549h1.0v1.0h-1.0zM485 555h1.0v1.0h-1.0zM456 567h1.0v1.0h-1.0zM486 550h1.0v1.0h-1.0zM477 550h1.0v1.0h-1.0zM451 568h1.0v1.0h-1.0zM464 553h1.0v1.0h-1.0zM458 567h1.0v1.0h-1.0zM464 562h1.0v1.0h-1.0zM465 551h1.0v1.0h-1.0zM461 566h1.0v1.0h-1.0zM452 569h1.0v1.0h-1.0zM480 555h1.0v1.0h-1.0zM487 551h1.0v1.0h-1.0zM480 558h1.0v1.0h-1.0zM446 556h1.0v1.0h-1.0zM465 563h1.0v1.0h-1.0zM484 549h1.0v1.0h-1.0zM476 548h1.0v1.0h-1.0zM486 552h1.0v1.0h-1.0zM460 567h1.0v1.0h-1.0zM476 557h1.0v1.0h-1.0zM444 555h1.0v1.0h-1.0z" fill="#666"/>
<path d="M445 554h1.0v1.0h-1.0zM452 568h1.0v1.0h-1.0zM447 572h1.0v1.0h-1.0zM449 569h1.0v1.0h-1.0zM427 587h1.0v1.0h-1.0zM443 559h1.0v1.0h-1.0zM453 569h1.0v1.0h-1.0zM443 577h1.0v1.0h-1.0zM447 556h1.0v1.0h-1.0zM439 582h1.0v1.0h-1.0zM441 579h1.0v1.0h-1.0zM427 589h1.0v1.0h-1.0zM432 585h1.0v1.0h-1.0zM433 584h1.0v1.0h-1.0zM439 587h1.0v1.0h-1.0zM437 584h1.0v1.0h-1.0zM425 564h1.0v1.0h-1.0zM438 583h1.0v1.0h-1.0zM426 563h1.0v1.0h-1.0zM443 579h1.0v1.0h-1.0zM445 576h1.0v1.0h-1.0zM440 580h1.0v1.0h-1.0zM431 586h1.0v1.0h-1.0zM432 560h1.0v1.0h-1.0zM433 559h1.0v1.0h-1.0zM447 558h1.0v1.0h-1.0zM441 581h1.0v1.0h-1.0zM442 580h1.0v1.0h-1.0zM433 586h1.0v1.0h-1.0zM431 561h1.0v1.0h-1.0zM434 560h1.0v1.0h-1.0zM448 577h1.0v1.0h-1.0zM453 573h1.0v1.0h-1.0zM440 582h1.0v1.0h-1.0zM443 581h1.0v1.0h-1.0zM439 559h1.0v1.0h-1.0zM431 588h1.0v1.0h-1.0zM450 568h1.0v1.0h-1.0zM432 562h1.0v1.0h-1.0zM433 561h1.0v1.0h-1.0zM435 558h1.0v1.0h-1.0zM425 587h1.0v1.0h-1.0zM437 561h1.0v1.0h-1.0zM446 573h1.0v1.0h-1.0zM448 570h1.0v1.0h-1.0zM451 569h1.0v1.0h-1.0zM434 562h1.0v1.0h-1.0zM436 559h1.0v1.0h-1.0zM440 584h1.0v1.0h-1.0zM444 575h1.0v1.0h-1.0zM450 570h1.0v1.0h-1.0zM435 560h1.0v1.0h-1.0zM427 586h1.0v1.0h-1.0zM446 575h1.0v1.0h-1.0zM448 572h1.0v1.0h-1.0zM451 571h1.0v1.0h-1.0zM449 571h1.0v1.0h-1.0zM429 586h1.0v1.0h-1.0zM430 585h1.0v1.0h-1.0zM427 561h1.0v1.0h-1.0zM444 577h1.0v1.0h-1.0zM441 560h1.0v1.0h-1.0zM442 559h1.0v1.0h-1.0zM452 569h1.0v1.0h-1.0zM434 585h1.0v1.0h-1.0zM439 581h1.0v1.0h-1.0zM427 588h1.0v1.0h-1.0zM426 590h1.0v1.0h-1.0zM428 587h1.0v1.0h-1.0zM446 577h1.0v1.0h-1.0zM448 574h1.0v1.0h-1.0zM432 587h1.0v1.0h-1.0zM437 583h1.0v1.0h-1.0zM438 582h1.0v1.0h-1.0zM450 556h1.0v1.0h-1.0zM429 588h1.0v1.0h-1.0zM430 587h1.0v1.0h-1.0zM450 574h1.0v1.0h-1.0zM452 571h1.0v1.0h-1.0zM434 587h1.0v1.0h-1.0zM436 584h1.0v1.0h-1.0zM439 583h1.0v1.0h-1.0zM442 579h1.0v1.0h-1.0zM451 557h1.0v1.0h-1.0zM429 563h1.0v1.0h-1.0zM430 562h1.0v1.0h-1.0zM437 585h1.0v1.0h-1.0zM435 585h1.0v1.0h-1.0zM438 584h1.0v1.0h-1.0zM440 581h1.0v1.0h-1.0zM453 575h1.0v1.0h-1.0zM442 554h1.0v1.0h-1.0zM444 581h1.0v1.0h-1.0zM443 583h1.0v1.0h-1.0zM445 580h1.0v1.0h-1.0zM436 586h1.0v1.0h-1.0zM442 581h1.0v1.0h-1.0zM447 571h1.0v1.0h-1.0zM449 568h1.0v1.0h-1.0zM438 586h1.0v1.0h-1.0zM440 583h1.0v1.0h-1.0zM439 560h1.0v1.0h-1.0zM433 562h1.0v1.0h-1.0zM425 588h1.0v1.0h-1.0zM426 587h1.0v1.0h-1.0zM438 561h1.0v1.0h-1.0zM446 574h1.0v1.0h-1.0zM448 571h1.0v1.0h-1.0zM432 584h1.0v1.0h-1.0zM444 576h1.0v1.0h-1.0zM443 578h1.0v1.0h-1.0zM441 559h1.0v1.0h-1.0zM442 558h1.0v1.0h-1.0zM445 575h1.0v1.0h-1.0zM431 585h1.0v1.0h-1.0zM434 584h1.0v1.0h-1.0zM447 557h1.0v1.0h-1.0zM428 586h1.0v1.0h-1.0zM441 580h1.0v1.0h-1.0zM448 573h1.0v1.0h-1.0zM447 575h1.0v1.0h-1.0zM449 572h1.0v1.0h-1.0zM433 585h1.0v1.0h-1.0zM445 559h1.0v1.0h-1.0zM430 586h1.0v1.0h-1.0zM425 565h1.0v1.0h-1.0zM444 578h1.0v1.0h-1.0zM442 560h1.0v1.0h-1.0zM445 577h1.0v1.0h-1.0zM431 587h1.0v1.0h-1.0zM434 586h1.0v1.0h-1.0zM436 583h1.0v1.0h-1.0zM432 561h1.0v1.0h-1.0zM439 585h1.0v1.0h-1.0zM441 582h1.0v1.0h-1.0zM446 578h1.0v1.0h-1.0zM430 561h1.0v1.0h-1.0zM435 584h1.0v1.0h-1.0zM434 561h1.0v1.0h-1.0zM427 564h1.0v1.0h-1.0zM435 559h1.0v1.0h-1.0zM447 570h1.0v1.0h-1.0zM441 584h1.0v1.0h-1.0zM429 564h1.0v1.0h-1.0zM430 563h1.0v1.0h-1.0zM483 556h1.0v1.0h-1.0zM480 548h1.0v1.0h-1.0zM480 557h1.0v1.0h-1.0zM452 568h1.0v1.0h-1.0zM455 567h1.0v1.0h-1.0zM462 563h1.0v1.0h-1.0zM478 559h1.0v1.0h-1.0zM453 569h1.0v1.0h-1.0zM454 568h1.0v1.0h-1.0zM458 568h1.0v1.0h-1.0zM464 563h1.0v1.0h-1.0zM447 556h1.0v1.0h-1.0zM455 569h1.0v1.0h-1.0zM470 551h1.0v1.0h-1.0zM485 549h1.0v1.0h-1.0zM471 559h1.0v1.0h-1.0zM451 556h1.0v1.0h-1.0zM444 559h1.0v1.0h-1.0zM474 548h1.0v1.0h-1.0zM469 561h1.0v1.0h-1.0zM474 557h1.0v1.0h-1.0zM452 554h1.0v1.0h-1.0zM466 553h1.0v1.0h-1.0zM466 562h1.0v1.0h-1.0zM479 556h1.0v1.0h-1.0zM476 557h1.0v1.0h-1.0zM477 558h1.0v1.0h-1.0zM483 553h1.0v1.0h-1.0zM474 550h1.0v1.0h-1.0zM455 555h1.0v1.0h-1.0zM479 549h1.0v1.0h-1.0zM484 554h1.0v1.0h-1.0zM485 553h1.0v1.0h-1.0zM487 550h1.0v1.0h-1.0zM471 563h1.0v1.0h-1.0zM473 560h1.0v1.0h-1.0zM483 555h1.0v1.0h-1.0zM475 560h1.0v1.0h-1.0zM450 570h1.0v1.0h-1.0zM485 555h1.0v1.0h-1.0zM456 567h1.0v1.0h-1.0zM460 565h1.0v1.0h-1.0zM482 549h1.0v1.0h-1.0zM467 561h1.0v1.0h-1.0zM464 553h1.0v1.0h-1.0zM458 567h1.0v1.0h-1.0zM464 562h1.0v1.0h-1.0zM442 559h1.0v1.0h-1.0zM452 569h1.0v1.0h-1.0zM457 568h1.0v1.0h-1.0zM462 564h1.0v1.0h-1.0zM486 549h1.0v1.0h-1.0zM454 569h1.0v1.0h-1.0zM467 563h1.0v1.0h-1.0zM469 560h1.0v1.0h-1.0zM466 552h1.0v1.0h-1.0zM470 552h1.0v1.0h-1.0zM471 551h1.0v1.0h-1.0zM465 565h1.0v1.0h-1.0zM471 560h1.0v1.0h-1.0zM486 551h1.0v1.0h-1.0zM468 564h1.0v1.0h-1.0zM480 547h1.0v1.0h-1.0zM480 556h1.0v1.0h-1.0zM486 553h1.0v1.0h-1.0zM467 549h1.0v1.0h-1.0zM453 568h1.0v1.0h-1.0zM482 558h1.0v1.0h-1.0zM455 568h1.0v1.0h-1.0zM460 564h1.0v1.0h-1.0zM484 549h1.0v1.0h-1.0zM483 547h1.0v1.0h-1.0zM444 558h1.0v1.0h-1.0zM458 566h1.0v1.0h-1.0zM459 565h1.0v1.0h-1.0zM450 571h1.0v1.0h-1.0zM465 553h1.0v1.0h-1.0zM463 565h1.0v1.0h-1.0zM465 562h1.0v1.0h-1.0zM471 548h1.0v1.0h-1.0zM466 561h1.0v1.0h-1.0zM446 558h1.0v1.0h-1.0zM447 557h1.0v1.0h-1.0zM456 568h1.0v1.0h-1.0zM457 567h1.0v1.0h-1.0zM486 548h1.0v1.0h-1.0zM462 566h1.0v1.0h-1.0zM467 562h1.0v1.0h-1.0zM468 561h1.0v1.0h-1.0zM474 558h1.0v1.0h-1.0zM486 550h1.0v1.0h-1.0zM485 552h1.0v1.0h-1.0zM451 568h1.0v1.0h-1.0zM462 568h1.0v1.0h-1.0zM468 563h1.0v1.0h-1.0zM482 555h1.0v1.0h-1.0zM480 555h1.0v1.0h-1.0zM486 552h1.0v1.0h-1.0zM485 554h1.0v1.0h-1.0zM433 595h1.0v1.0h-1.0zM432 593h1.0v1.0h-1.0zM435 595h1.0v1.0h-1.0zM435 598h1.0v1.0h-1.0zM438 594h1.0v1.0h-1.0zM438 600h1.0v1.0h-1.0zM430 593h1.0v1.0h-1.0zM429 591h1.0v1.0h-1.0zM429 594h1.0v1.0h-1.0zM431 591h1.0v1.0h-1.0zM431 594h1.0v1.0h-1.0zM445 593h1.0v1.0h-1.0zM436 590h1.0v1.0h-1.0zM436 587h1.0v1.0h-1.0zM425 593h1.0v1.0h-1.0zM434 596h1.0v1.0h-1.0zM427 587h1.0v1.0h-1.0zM442 588h1.0v1.0h-1.0zM428 592h1.0v1.0h-1.0zM439 592h1.0v1.0h-1.0zM433 588h1.0v1.0h-1.0zM439 598h1.0v1.0h-1.0zM441 592h1.0v1.0h-1.0zM441 598h1.0v1.0h-1.0zM432 595h1.0v1.0h-1.0zM433 594h1.0v1.0h-1.0zM432 592h1.0v1.0h-1.0zM433 597h1.0v1.0h-1.0zM435 594h1.0v1.0h-1.0zM438 590h1.0v1.0h-1.0zM438 596h1.0v1.0h-1.0zM438 599h1.0v1.0h-1.0zM440 596h1.0v1.0h-1.0zM429 596h1.0v1.0h-1.0zM431 593h1.0v1.0h-1.0zM431 599h1.0v1.0h-1.0zM436 592h1.0v1.0h-1.0zM441 585h1.0v1.0h-1.0zM427 598h1.0v1.0h-1.0zM441 594h1.0v1.0h-1.0zM435 590h1.0v1.0h-1.0zM433 593h1.0v1.0h-1.0zM435 593h1.0v1.0h-1.0zM429 586h1.0v1.0h-1.0zM437 596h1.0v1.0h-1.0zM430 594h1.0v1.0h-1.0zM425 594h1.0v1.0h-1.0zM440 592h1.0v1.0h-1.0zM436 591h1.0v1.0h-1.0zM436 597h1.0v1.0h-1.0zM445 597h1.0v1.0h-1.0zM439 587h1.0v1.0h-1.0zM427 591h1.0v1.0h-1.0zM428 596h1.0v1.0h-1.0zM476 580h1.0v1.0h-1.0zM454 592h1.0v1.0h-1.0zM471 587h1.0v1.0h-1.0z" fill="#000"/>
<path d="M434 566h1.0v1.0h-1.0zM429 585h1.0v1.0h-1.0zM439 577h1.0v1.0h-1.0zM449 560h1.0v1.0h-1.0zM446 561h1.0v1.0h-1.0zM448 564h1.0v1.0h-1.0zM438 576h1.0v1.0h-1.0zM432 583h1.0v1.0h-1.0zM444 560h1.0v1.0h-1.0zM442 560h1.0v1.0h-1.0zM433 563h1.0v1.0h-1.0zM433 566h1.0v1.0h-1.0zM435 563h1.0v1.0h-1.0zM440 577h1.0v1.0h-1.0zM445 561h1.0v1.0h-1.0zM445 573h1.0v1.0h-1.0zM442 562h1.0v1.0h-1.0zM428 566h1.0v1.0h-1.0zM450 566h1.0v1.0h-1.0zM428 572h1.0v1.0h-1.0zM446 559h1.0v1.0h-1.0zM437 562h1.0v1.0h-1.0zM448 565h1.0v1.0h-1.0zM438 564h1.0v1.0h-1.0zM440 561h1.0v1.0h-1.0zM451 561h1.0v1.0h-1.0zM433 583h1.0v1.0h-1.0z" fill="#fff"/>
<path d="M478 554h1.0v1.0h-1.0zM461 556h1.0v1.0h-1.0zM472 556h1.0v1.0h-1.0zM466 558h1.0v1.0h-1.0zM480 554h1.0v1.0h-1.0zM457 561h1.0v1.0h-1.0zM473 551h1.0v1.0h-1.0zM456 565h1.0v1.0h-1.0zM477 554h1.0v1.0h-1.0zM476 556h1.0v1.0h-1.0zM467 553h1.0v1.0h-1.0zM467 559h1.0v1.0h-1.0zM483 552h1.0v1.0h-1.0zM459 558h1.0v1.0h-1.0zM469 556h1.0v1.0h-1.0zM472 555h1.0v1.0h-1.0zM475 557h1.0v1.0h-1.0zM463 561h1.0v1.0h-1.0zM460 556h1.0v1.0h-1.0zM477 550h1.0v1.0h-1.0zM467 555h1.0v1.0h-1.0zM468 554h1.0v1.0h-1.0zM467 557h1.0v1.0h-1.0zM461 557h1.0v1.0h-1.0zM479 550h1.0v1.0h-1.0zM465 557h1.0v1.0h-1.0zM480 552h1.0v1.0h-1.0zM473 555h1.0v1.0h-1.0zM460 561h1.0v1.0h-1.0zM478 551h1.0v1.0h-1.0zM453 564h1.0v1.0h-1.0z" fill="#fff"/>
<line x1="452.3" y1="544.2" x2="452.3" y2="603.4" stroke="#000" stroke-width="1.2"/>
<line x1="424.3" y1="573.3" x2="503.2" y2="573.3" stroke="#000" stroke-width="1.2"/>
<text x="0" y="0" font-size="12.3" font-weight="bold" text-anchor="start" fill="#000" transform="translate(427.5,554.5) scale(0.97,1)">35%</text>
<text x="0" y="0" font-size="12.8" font-weight="bold" text-anchor="end" fill="#000" transform="translate(499.6,570.6) scale(0.93,1)">38%</text>
<text x="0" y="0" font-size="12.8" font-weight="bold" text-anchor="end" fill="#000" transform="translate(499.6,600.4) scale(0.93,1)">5%</text>
<text x="0" y="0" font-size="8.5" font-weight="normal" text-anchor="start" fill="#000" transform="translate(405.4,589.9) rotate(-90)">CD44</text>
<rect x="317.3" y="624.3" width="77.5" height="58.7" fill="none" stroke="#000" stroke-width="1.2"/>
<path d="M323.13 683v1.5M317.3 678.58h-1.5M326.54 683v1.5M317.3 676h-1.5M328.96 683v1.5M317.3 674.16h-1.5M330.84 683v1.5M317.3 672.74h-1.5M332.38 683v1.5M317.3 671.58h-1.5M333.67 683v1.5M317.3 670.6h-1.5M334.8 683v1.5M317.3 669.75h-1.5M335.79 683v1.5M317.3 669h-1.5M342.51 683v1.5M317.3 663.91h-1.5M345.92 683v1.5M317.3 661.32h-1.5M348.34 683v1.5M317.3 659.49h-1.5M350.22 683v1.5M317.3 658.07h-1.5M351.75 683v1.5M317.3 656.91h-1.5M353.05 683v1.5M317.3 655.92h-1.5M354.17 683v1.5M317.3 655.07h-1.5M355.16 683v1.5M317.3 654.32h-1.5M361.88 683v1.5M317.3 649.23h-1.5M365.29 683v1.5M317.3 646.65h-1.5M367.71 683v1.5M317.3 644.81h-1.5M369.59 683v1.5M317.3 643.39h-1.5M371.13 683v1.5M317.3 642.23h-1.5M372.42 683v1.5M317.3 641.25h-1.5M373.55 683v1.5M317.3 640.4h-1.5M374.54 683v1.5M317.3 639.65h-1.5M381.26 683v1.5M317.3 634.56h-1.5M384.67 683v1.5M317.3 631.97h-1.5M387.09 683v1.5M317.3 630.14h-1.5M388.97 683v1.5M317.3 628.72h-1.5M390.5 683v1.5M317.3 627.56h-1.5M391.8 683v1.5M317.3 626.57h-1.5M392.92 683v1.5M317.3 625.72h-1.5M393.91 683v1.5M317.3 624.97h-1.5M317.3 683v3M317.3 683h-3M336.68 683v3M317.3 668.33h-3M356.05 683v3M317.3 653.65h-3M375.43 683v3M317.3 638.97h-3M394.8 683v3M317.3 624.3h-3" stroke="#000" stroke-width="0.9" fill="none"/>
<text transform="translate(312.01,697.2) scale(0.7,1)" font-size="9.9" font-weight="normal" stroke="#000" stroke-width="0.45">10</text><text transform="translate(320.11,691.8) scale(0.9,1)" font-size="8" font-weight="normal" stroke="#000" stroke-width="0.45">0</text>
<text transform="translate(311.8,688.79) rotate(-90) scale(0.95,1)" font-size="8.3" font-weight="normal" stroke="#000" stroke-width="0.4">10</text><text transform="translate(306.6,680) rotate(-90) scale(1.0,1)" font-size="7.4" font-weight="normal" stroke="#000" stroke-width="0.4">0</text>
<text transform="translate(331.38,697.2) scale(0.7,1)" font-size="9.9" font-weight="normal" stroke="#000" stroke-width="0.45">10</text><text transform="translate(339.49,691.8) scale(0.9,1)" font-size="8" font-weight="normal" stroke="#000" stroke-width="0.45">1</text>
<text transform="translate(311.8,674.11) rotate(-90) scale(0.95,1)" font-size="8.3" font-weight="normal" stroke="#000" stroke-width="0.4">10</text><text transform="translate(306.6,665.32) rotate(-90) scale(1.0,1)" font-size="7.4" font-weight="normal" stroke="#000" stroke-width="0.4">1</text>
<text transform="translate(350.76,697.2) scale(0.7,1)" font-size="9.9" font-weight="normal" stroke="#000" stroke-width="0.45">10</text><text transform="translate(358.86,691.8) scale(0.9,1)" font-size="8" font-weight="normal" stroke="#000" stroke-width="0.45">2</text>
<text transform="translate(311.8,659.44) rotate(-90) scale(0.95,1)" font-size="8.3" font-weight="normal" stroke="#000" stroke-width="0.4">10</text><text transform="translate(306.6,650.65) rotate(-90) scale(1.0,1)" font-size="7.4" font-weight="normal" stroke="#000" stroke-width="0.4">2</text>
<text transform="translate(370.13,697.2) scale(0.7,1)" font-size="9.9" font-weight="normal" stroke="#000" stroke-width="0.45">10</text><text transform="translate(378.24,691.8) scale(0.9,1)" font-size="8" font-weight="normal" stroke="#000" stroke-width="0.45">3</text>
<text transform="translate(311.8,644.76) rotate(-90) scale(0.95,1)" font-size="8.3" font-weight="normal" stroke="#000" stroke-width="0.4">10</text><text transform="translate(306.6,635.97) rotate(-90) scale(1.0,1)" font-size="7.4" font-weight="normal" stroke="#000" stroke-width="0.4">3</text>
<text transform="translate(389.51,697.2) scale(0.7,1)" font-size="9.9" font-weight="normal" stroke="#000" stroke-width="0.45">10</text><text transform="translate(397.61,691.8) scale(0.9,1)" font-size="8" font-weight="normal" stroke="#000" stroke-width="0.45">4</text>
<text transform="translate(311.8,630.09) rotate(-90) scale(0.95,1)" font-size="8.3" font-weight="normal" stroke="#000" stroke-width="0.4">10</text><text transform="translate(306.6,621.3) rotate(-90) scale(1.0,1)" font-size="7.4" font-weight="normal" stroke="#000" stroke-width="0.4">4</text>
<path d="M327 640C328.42 637.75 332.33 637.42 335 636.5C337.67 635.58 340.67 634.92 343 634.5C345.33 634.08 347.67 633.58 349 634C350.33 634.42 351.17 635.17 351 637C350.83 638.83 349.17 642 348 645C346.83 648 345.67 652.17 344 655C342.33 657.83 340 660.58 338 662C336 663.42 333.67 664.17 332 663.5C330.33 662.83 328.92 660.25 328 658C327.08 655.75 326.67 653 326.5 650C326.33 647 325.58 642.25 327 640Z" stroke="#000" stroke-width="0.6" fill="#000"/>
<path d="M341 634h1.0v1.0h-1.0zM325 647h1.0v1.0h-1.0zM350 646h1.0v1.0h-1.0zM326 655h1.0v1.0h-1.0zM346 633h1.0v1.0h-1.0zM327 662h1.0v1.0h-1.0zM348 630h1.0v1.0h-1.0zM349 659h1.0v1.0h-1.0zM346 651h1.0v1.0h-1.0zM323 649h1.0v1.0h-1.0zM347 634h1.0v1.0h-1.0zM351 650h1.0v1.0h-1.0zM350 639h1.0v1.0h-1.0zM330 636h1.0v1.0h-1.0zM343 655h1.0v1.0h-1.0zM345 652h1.0v1.0h-1.0zM322 632h1.0v1.0h-1.0zM350 648h1.0v1.0h-1.0zM342 665h1.0v1.0h-1.0zM343 664h1.0v1.0h-1.0zM325 658h1.0v1.0h-1.0zM329 666h1.0v1.0h-1.0zM339 629h1.0v1.0h-1.0zM321 645h1.0v1.0h-1.0zM328 638h1.0v1.0h-1.0zM346 653h1.0v1.0h-1.0zM348 650h1.0v1.0h-1.0zM330 666h1.0v1.0h-1.0zM346 662h1.0v1.0h-1.0zM330 675h1.0v1.0h-1.0zM325 642h1.0v1.0h-1.0zM327 639h1.0v1.0h-1.0zM329 660h1.0v1.0h-1.0zM342 658h1.0v1.0h-1.0zM345 654h1.0v1.0h-1.0zM344 655h1.0v1.0h-1.0zM350 641h1.0v1.0h-1.0zM326 650h1.0v1.0h-1.0zM331 664h1.0v1.0h-1.0zM334 663h1.0v1.0h-1.0zM325 660h1.0v1.0h-1.0zM327 657h1.0v1.0h-1.0zM346 628h1.0v1.0h-1.0zM326 659h1.0v1.0h-1.0zM337 634h1.0v1.0h-1.0zM321 647h1.0v1.0h-1.0zM348 643h1.0v1.0h-1.0zM341 659h1.0v1.0h-1.0zM324 652h1.0v1.0h-1.0zM341 668h1.0v1.0h-1.0zM342 633h1.0v1.0h-1.0zM344 630h1.0v1.0h-1.0zM350 634h1.0v1.0h-1.0zM352 631h1.0v1.0h-1.0zM326 643h1.0v1.0h-1.0zM320 657h1.0v1.0h-1.0zM342 669h1.0v1.0h-1.0zM326 652h1.0v1.0h-1.0zM346 630h1.0v1.0h-1.0zM336 662h1.0v1.0h-1.0zM349 656h1.0v1.0h-1.0zM338 635h1.0v1.0h-1.0zM340 632h1.0v1.0h-1.0zM321 649h1.0v1.0h-1.0zM324 645h1.0v1.0h-1.0zM330 661h1.0v1.0h-1.0zM324 654h1.0v1.0h-1.0zM333 666h1.0v1.0h-1.0zM347 631h1.0v1.0h-1.0zM351 647h1.0v1.0h-1.0zM327 634h1.0v1.0h-1.0zM350 636h1.0v1.0h-1.0zM339 663h1.0v1.0h-1.0zM349 640h1.0v1.0h-1.0zM325 655h1.0v1.0h-1.0zM320 668h1.0v1.0h-1.0zM332 633h1.0v1.0h-1.0zM329 634h1.0v1.0h-1.0zM330 672h1.0v1.0h-1.0zM351 649h1.0v1.0h-1.0zM353 646h1.0v1.0h-1.0zM325 639h1.0v1.0h-1.0zM349 633h1.0v1.0h-1.0zM328 665h1.0v1.0h-1.0zM343 663h1.0v1.0h-1.0zM345 660h1.0v1.0h-1.0zM349 642h1.0v1.0h-1.0zM330 638h1.0v1.0h-1.0zM332 635h1.0v1.0h-1.0zM346 634h1.0v1.0h-1.0zM348 631h1.0v1.0h-1.0zM347 654h1.0v1.0h-1.0zM322 643h1.0v1.0h-1.0zM352 656h1.0v1.0h-1.0zM342 630h1.0v1.0h-1.0zM334 635h1.0v1.0h-1.0zM351 651h1.0v1.0h-1.0zM348 652h1.0v1.0h-1.0zM328 658h1.0v1.0h-1.0zM327 638h1.0v1.0h-1.0zM325 641h1.0v1.0h-1.0zM343 656h1.0v1.0h-1.0zM345 653h1.0v1.0h-1.0zM326 640h1.0v1.0h-1.0zM326 649h1.0v1.0h-1.0zM331 663h1.0v1.0h-1.0zM347 647h1.0v1.0h-1.0zM339 676h1.0v1.0h-1.0zM349 644h1.0v1.0h-1.0zM350 643h1.0v1.0h-1.0zM352 640h1.0v1.0h-1.0zM347 656h1.0v1.0h-1.0zM349 653h1.0v1.0h-1.0zM323 634h1.0v1.0h-1.0zM350 652h1.0v1.0h-1.0zM322 645h1.0v1.0h-1.0zM341 658h1.0v1.0h-1.0zM324 651h1.0v1.0h-1.0zM330 667h1.0v1.0h-1.0zM339 633h1.0v1.0h-1.0zM351 635h1.0v1.0h-1.0zM351 644h1.0v1.0h-1.0zM353 641h1.0v1.0h-1.0zM327 631h1.0v1.0h-1.0zM339 660h1.0v1.0h-1.0zM338 662h1.0v1.0h-1.0zM328 660h1.0v1.0h-1.0zM320 656h1.0v1.0h-1.0zM340 659h1.0v1.0h-1.0zM328 669h1.0v1.0h-1.0zM343 658h1.0v1.0h-1.0zM330 633h1.0v1.0h-1.0zM347 649h1.0v1.0h-1.0zM349 646h1.0v1.0h-1.0zM331 665h1.0v1.0h-1.0zM350 645h1.0v1.0h-1.0zM344 659h1.0v1.0h-1.0zM323 636h1.0v1.0h-1.0zM338 634h1.0v1.0h-1.0zM347 667h1.0v1.0h-1.0zM323 645h1.0v1.0h-1.0zM336 664h1.0v1.0h-1.0zM341 660h1.0v1.0h-1.0zM322 656h1.0v1.0h-1.0zM351 637h1.0v1.0h-1.0zM322 665h1.0v1.0h-1.0zM348 647h1.0v1.0h-1.0zM333 665h1.0v1.0h-1.0zM345 630h1.0v1.0h-1.0zM348 656h1.0v1.0h-1.0zM336 636h1.0v1.0h-1.0zM340 661h1.0v1.0h-1.0zM326 644h1.0v1.0h-1.0zM329 670h1.0v1.0h-1.0zM350 638h1.0v1.0h-1.0zM326 653h1.0v1.0h-1.0zM347 651h1.0v1.0h-1.0zM352 644h1.0v1.0h-1.0zM325 657h1.0v1.0h-1.0zM327 654h1.0v1.0h-1.0zM335 667h1.0v1.0h-1.0zM321 650h1.0v1.0h-1.0zM322 649h1.0v1.0h-1.0zM336 666h1.0v1.0h-1.0zM351 630h1.0v1.0h-1.0zM341 662h1.0v1.0h-1.0zM324 655h1.0v1.0h-1.0zM351 639h1.0v1.0h-1.0zM353 636h1.0v1.0h-1.0zM348 649h1.0v1.0h-1.0zM323 659h1.0v1.0h-1.0zM326 637h1.0v1.0h-1.0zM339 664h1.0v1.0h-1.0zM349 632h1.0v1.0h-1.0zM341 631h1.0v1.0h-1.0zM341 628h1.0v1.0h-1.0zM349 641h1.0v1.0h-1.0zM352 637h1.0v1.0h-1.0zM330 637h1.0v1.0h-1.0zM333 633h1.0v1.0h-1.0zM325 650h1.0v1.0h-1.0zM321 643h1.0v1.0h-1.0zM325 659h1.0v1.0h-1.0zM327 656h1.0v1.0h-1.0zM324 639h1.0v1.0h-1.0zM322 651h1.0v1.0h-1.0zM337 633h1.0v1.0h-1.0zM326 667h1.0v1.0h-1.0zM342 629h1.0v1.0h-1.0zM348 633h1.0v1.0h-1.0zM329 638h1.0v1.0h-1.0zM331 635h1.0v1.0h-1.0zM348 651h1.0v1.0h-1.0zM345 634h1.0v1.0h-1.0zM332 664h1.0v1.0h-1.0zM347 628h1.0v1.0h-1.0zM335 635h1.0v1.0h-1.0zM338 668h1.0v1.0h-1.0zM340 665h1.0v1.0h-1.0zM352 630h1.0v1.0h-1.0zM349 643h1.0v1.0h-1.0zM350 642h1.0v1.0h-1.0zM352 639h1.0v1.0h-1.0zM344 656h1.0v1.0h-1.0zM332 636h1.0v1.0h-1.0zM325 652h1.0v1.0h-1.0zM352 648h1.0v1.0h-1.0zM344 665h1.0v1.0h-1.0zM334 664h1.0v1.0h-1.0zM322 644h1.0v1.0h-1.0zM327 658h1.0v1.0h-1.0zM337 635h1.0v1.0h-1.0zM351 634h1.0v1.0h-1.0zM339 632h1.0v1.0h-1.0zM323 654h1.0v1.0h-1.0zM337 662h1.0v1.0h-1.0zM348 662h1.0v1.0h-1.0zM338 661h1.0v1.0h-1.0zM338 670h1.0v1.0h-1.0zM350 635h1.0v1.0h-1.0zM341 632h1.0v1.0h-1.0zM347 648h1.0v1.0h-1.0zM352 632h1.0v1.0h-1.0zM325 645h1.0v1.0h-1.0zM325 654h1.0v1.0h-1.0zM350 653h1.0v1.0h-1.0zM335 664h1.0v1.0h-1.0zM346 631h1.0v1.0h-1.0zM327 660h1.0v1.0h-1.0zM336 663h1.0v1.0h-1.0zM351 636h1.0v1.0h-1.0zM339 634h1.0v1.0h-1.0zM340 633h1.0v1.0h-1.0zM323 647h1.0v1.0h-1.0zM340 660h1.0v1.0h-1.0zM322 639h1.0v1.0h-1.0zM326 655h1.0v1.0h-1.0zM325 665h1.0v1.0h-1.0zM327 662h1.0v1.0h-1.0zM319 658h1.0v1.0h-1.0zM325 674h1.0v1.0h-1.0zM321 652h1.0v1.0h-1.0zM323 667h1.0v1.0h-1.0zM320 671h1.0v1.0h-1.0zM319 651h1.0v1.0h-1.0zM326 666h1.0v1.0h-1.0zM319 660h1.0v1.0h-1.0zM321 645h1.0v1.0h-1.0zM323 651h1.0v1.0h-1.0zM324 650h1.0v1.0h-1.0zM318 646h1.0v1.0h-1.0zM322 671h1.0v1.0h-1.0zM326 641h1.0v1.0h-1.0zM320 664h1.0v1.0h-1.0zM319 644h1.0v1.0h-1.0zM325 660h1.0v1.0h-1.0zM326 659h1.0v1.0h-1.0zM321 638h1.0v1.0h-1.0zM326 668h1.0v1.0h-1.0zM321 647h1.0v1.0h-1.0zM321 656h1.0v1.0h-1.0zM330 668h1.0v1.0h-1.0zM321 665h1.0v1.0h-1.0zM323 662h1.0v1.0h-1.0zM318 648h1.0v1.0h-1.0zM324 661h1.0v1.0h-1.0zM327 678h1.0v1.0h-1.0zM321 674h1.0v1.0h-1.0zM322 664h1.0v1.0h-1.0zM322 673h1.0v1.0h-1.0zM330 677h1.0v1.0h-1.0zM328 661h1.0v1.0h-1.0zM326 643h1.0v1.0h-1.0zM325 653h1.0v1.0h-1.0zM326 652h1.0v1.0h-1.0zM320 666h1.0v1.0h-1.0zM321 649h1.0v1.0h-1.0zM323 646h1.0v1.0h-1.0zM322 648h1.0v1.0h-1.0zM321 658h1.0v1.0h-1.0zM320 650h1.0v1.0h-1.0zM319 648h1.0v1.0h-1.0zM326 663h1.0v1.0h-1.0zM321 651h1.0v1.0h-1.0zM324 647h1.0v1.0h-1.0zM321 660h1.0v1.0h-1.0zM323 657h1.0v1.0h-1.0zM322 659h1.0v1.0h-1.0zM319 669h1.0v1.0h-1.0zM322 668h1.0v1.0h-1.0zM318 655h1.0v1.0h-1.0zM320 652h1.0v1.0h-1.0zM326 656h1.0v1.0h-1.0zM321 635h1.0v1.0h-1.0zM324 640h1.0v1.0h-1.0zM321 653h1.0v1.0h-1.0zM322 652h1.0v1.0h-1.0zM324 649h1.0v1.0h-1.0zM330 665h1.0v1.0h-1.0zM319 662h1.0v1.0h-1.0zM324 667h1.0v1.0h-1.0zM325 641h1.0v1.0h-1.0zM323 671h1.0v1.0h-1.0zM320 672h1.0v1.0h-1.0zM323 643h1.0v1.0h-1.0zM322 645h1.0v1.0h-1.0zM324 642h1.0v1.0h-1.0zM322 654h1.0v1.0h-1.0zM324 660h1.0v1.0h-1.0zM322 672h1.0v1.0h-1.0zM325 643h1.0v1.0h-1.0zM318 659h1.0v1.0h-1.0zM320 656h1.0v1.0h-1.0zM320 665h1.0v1.0h-1.0zM321 648h1.0v1.0h-1.0zM324 644h1.0v1.0h-1.0zM319 657h1.0v1.0h-1.0zM324 653h1.0v1.0h-1.0zM325 636h1.0v1.0h-1.0zM323 666h1.0v1.0h-1.0zM320 649h1.0v1.0h-1.0zM318 661h1.0v1.0h-1.0zM320 658h1.0v1.0h-1.0zM325 657h1.0v1.0h-1.0zM327 663h1.0v1.0h-1.0zM319 659h1.0v1.0h-1.0zM324 655h1.0v1.0h-1.0zM323 668h1.0v1.0h-1.0zM320 660h1.0v1.0h-1.0zM321 643h1.0v1.0h-1.0zM324 639h1.0v1.0h-1.0zM322 651h1.0v1.0h-1.0zM324 648h1.0v1.0h-1.0zM325 668h1.0v1.0h-1.0zM322 660h1.0v1.0h-1.0zM321 664h1.0v1.0h-1.0zM320 653h1.0v1.0h-1.0zM324 669h1.0v1.0h-1.0zM325 652h1.0v1.0h-1.0zM319 645h1.0v1.0h-1.0zM327 658h1.0v1.0h-1.0zM322 653h1.0v1.0h-1.0zM319 663h1.0v1.0h-1.0zM324 662h1.0v1.0h-1.0zM323 672h1.0v1.0h-1.0zM320 655h1.0v1.0h-1.0zM324 671h1.0v1.0h-1.0zM329 667h1.0v1.0h-1.0zM325 654h1.0v1.0h-1.0zM322 646h1.0v1.0h-1.0zM327 660h1.0v1.0h-1.0zM319 665h1.0v1.0h-1.0zM323 647h1.0v1.0h-1.0zM321 659h1.0v1.0h-1.0zM323 656h1.0v1.0h-1.0zM329 660h1.0v1.0h-1.0z" fill="#666"/>
<path d="M327 635h1.0v1.0h-1.0zM341 634h1.0v1.0h-1.0zM352 634h1.0v1.0h-1.0zM325 647h1.0v1.0h-1.0zM342 663h1.0v1.0h-1.0zM343 662h1.0v1.0h-1.0zM327 653h1.0v1.0h-1.0zM326 655h1.0v1.0h-1.0zM336 665h1.0v1.0h-1.0zM327 662h1.0v1.0h-1.0zM328 636h1.0v1.0h-1.0zM340 635h1.0v1.0h-1.0zM323 649h1.0v1.0h-1.0zM343 634h1.0v1.0h-1.0zM346 651h1.0v1.0h-1.0zM341 664h1.0v1.0h-1.0zM330 664h1.0v1.0h-1.0zM329 635h1.0v1.0h-1.0zM350 639h1.0v1.0h-1.0zM352 636h1.0v1.0h-1.0zM343 655h1.0v1.0h-1.0zM345 652h1.0v1.0h-1.0zM344 653h1.0v1.0h-1.0zM350 648h1.0v1.0h-1.0zM344 662h1.0v1.0h-1.0zM319 642h1.0v1.0h-1.0zM325 658h1.0v1.0h-1.0zM345 661h1.0v1.0h-1.0zM328 638h1.0v1.0h-1.0zM331 634h1.0v1.0h-1.0zM348 650h1.0v1.0h-1.0zM332 663h1.0v1.0h-1.0zM328 659h1.0v1.0h-1.0zM327 639h1.0v1.0h-1.0zM326 641h1.0v1.0h-1.0zM342 658h1.0v1.0h-1.0zM345 654h1.0v1.0h-1.0zM350 641h1.0v1.0h-1.0zM342 667h1.0v1.0h-1.0zM333 634h1.0v1.0h-1.0zM331 664h1.0v1.0h-1.0zM334 663h1.0v1.0h-1.0zM325 660h1.0v1.0h-1.0zM344 655h1.0v1.0h-1.0zM343 666h1.0v1.0h-1.0zM323 644h1.0v1.0h-1.0zM348 643h1.0v1.0h-1.0zM324 643h1.0v1.0h-1.0zM341 659h1.0v1.0h-1.0zM346 655h1.0v1.0h-1.0zM322 655h1.0v1.0h-1.0zM332 665h1.0v1.0h-1.0zM342 633h1.0v1.0h-1.0zM333 664h1.0v1.0h-1.0zM339 661h1.0v1.0h-1.0zM328 661h1.0v1.0h-1.0zM326 643h1.0v1.0h-1.0zM342 660h1.0v1.0h-1.0zM325 653h1.0v1.0h-1.0zM346 630h1.0v1.0h-1.0zM349 647h1.0v1.0h-1.0zM349 656h1.0v1.0h-1.0zM330 661h1.0v1.0h-1.0zM341 661h1.0v1.0h-1.0zM351 638h1.0v1.0h-1.0zM332 667h1.0v1.0h-1.0zM345 631h1.0v1.0h-1.0zM325 637h1.0v1.0h-1.0zM350 636h1.0v1.0h-1.0zM339 663h1.0v1.0h-1.0zM326 645h1.0v1.0h-1.0zM343 661h1.0v1.0h-1.0zM345 658h1.0v1.0h-1.0zM349 640h1.0v1.0h-1.0zM329 662h1.0v1.0h-1.0zM326 654h1.0v1.0h-1.0zM325 655h1.0v1.0h-1.0zM347 652h1.0v1.0h-1.0zM332 633h1.0v1.0h-1.0zM349 649h1.0v1.0h-1.0zM352 645h1.0v1.0h-1.0zM321 642h1.0v1.0h-1.0zM346 650h1.0v1.0h-1.0zM323 648h1.0v1.0h-1.0zM341 663h1.0v1.0h-1.0zM330 663h1.0v1.0h-1.0zM333 668h1.0v1.0h-1.0zM325 648h1.0v1.0h-1.0zM349 633h1.0v1.0h-1.0zM329 664h1.0v1.0h-1.0zM340 664h1.0v1.0h-1.0zM347 645h1.0v1.0h-1.0zM345 660h1.0v1.0h-1.0zM326 647h1.0v1.0h-1.0zM326 656h1.0v1.0h-1.0zM330 638h1.0v1.0h-1.0zM352 638h1.0v1.0h-1.0zM349 642h1.0v1.0h-1.0zM350 650h1.0v1.0h-1.0zM324 640h1.0v1.0h-1.0zM330 665h1.0v1.0h-1.0zM324 658h1.0v1.0h-1.0zM351 642h1.0v1.0h-1.0zM335 633h1.0v1.0h-1.0zM348 652h1.0v1.0h-1.0zM325 641h1.0v1.0h-1.0zM327 638h1.0v1.0h-1.0zM342 657h1.0v1.0h-1.0zM343 656h1.0v1.0h-1.0zM345 653h1.0v1.0h-1.0zM325 642h1.0v1.0h-1.0zM326 649h1.0v1.0h-1.0zM343 665h1.0v1.0h-1.0zM341 631h1.0v1.0h-1.0zM349 644h1.0v1.0h-1.0zM350 643h1.0v1.0h-1.0zM349 653h1.0v1.0h-1.0zM333 636h1.0v1.0h-1.0zM352 649h1.0v1.0h-1.0zM338 632h1.0v1.0h-1.0zM335 663h1.0v1.0h-1.0zM323 643h1.0v1.0h-1.0zM327 659h1.0v1.0h-1.0zM341 658h1.0v1.0h-1.0zM342 632h1.0v1.0h-1.0zM333 663h1.0v1.0h-1.0zM348 645h1.0v1.0h-1.0zM353 641h1.0v1.0h-1.0zM348 654h1.0v1.0h-1.0zM325 634h1.0v1.0h-1.0zM337 663h1.0v1.0h-1.0zM338 662h1.0v1.0h-1.0zM340 659h1.0v1.0h-1.0zM343 658h1.0v1.0h-1.0zM329 659h1.0v1.0h-1.0zM326 651h1.0v1.0h-1.0zM341 633h1.0v1.0h-1.0zM331 665h1.0v1.0h-1.0zM349 646h1.0v1.0h-1.0zM347 649h1.0v1.0h-1.0zM352 633h1.0v1.0h-1.0zM344 659h1.0v1.0h-1.0zM324 635h1.0v1.0h-1.0zM335 665h1.0v1.0h-1.0zM319 657h1.0v1.0h-1.0zM351 637h1.0v1.0h-1.0zM344 631h1.0v1.0h-1.0zM333 665h1.0v1.0h-1.0zM348 647h1.0v1.0h-1.0zM325 636h1.0v1.0h-1.0zM351 655h1.0v1.0h-1.0zM347 633h1.0v1.0h-1.0zM328 662h1.0v1.0h-1.0zM339 662h1.0v1.0h-1.0zM329 661h1.0v1.0h-1.0zM326 644h1.0v1.0h-1.0zM340 661h1.0v1.0h-1.0zM326 653h1.0v1.0h-1.0zM352 635h1.0v1.0h-1.0zM347 651h1.0v1.0h-1.0zM349 648h1.0v1.0h-1.0zM325 657h1.0v1.0h-1.0zM327 654h1.0v1.0h-1.0zM321 650h1.0v1.0h-1.0zM334 669h1.0v1.0h-1.0zM335 667h1.0v1.0h-1.0zM327 663h1.0v1.0h-1.0zM330 662h1.0v1.0h-1.0zM351 639h1.0v1.0h-1.0zM331 633h1.0v1.0h-1.0zM348 649h1.0v1.0h-1.0zM346 652h1.0v1.0h-1.0zM337 667h1.0v1.0h-1.0zM349 632h1.0v1.0h-1.0zM340 663h1.0v1.0h-1.0zM349 641h1.0v1.0h-1.0zM350 640h1.0v1.0h-1.0zM344 654h1.0v1.0h-1.0zM330 637h1.0v1.0h-1.0zM349 650h1.0v1.0h-1.0zM325 650h1.0v1.0h-1.0zM328 665h1.0v1.0h-1.0zM352 646h1.0v1.0h-1.0zM334 662h1.0v1.0h-1.0zM324 648h1.0v1.0h-1.0zM346 654h1.0v1.0h-1.0zM323 661h1.0v1.0h-1.0zM335 635h1.0v1.0h-1.0zM349 634h1.0v1.0h-1.0zM350 633h1.0v1.0h-1.0zM341 630h1.0v1.0h-1.0zM347 646h1.0v1.0h-1.0zM349 643h1.0v1.0h-1.0zM350 642h1.0v1.0h-1.0zM344 656h1.0v1.0h-1.0zM347 655h1.0v1.0h-1.0zM333 635h1.0v1.0h-1.0zM350 651h1.0v1.0h-1.0zM334 664h1.0v1.0h-1.0zM322 644h1.0v1.0h-1.0zM327 658h1.0v1.0h-1.0zM326 660h1.0v1.0h-1.0zM337 635h1.0v1.0h-1.0zM339 632h1.0v1.0h-1.0zM348 644h1.0v1.0h-1.0zM331 637h1.0v1.0h-1.0zM334 636h1.0v1.0h-1.0zM329 660h1.0v1.0h-1.0zM337 662h1.0v1.0h-1.0zM350 635h1.0v1.0h-1.0zM341 632h1.0v1.0h-1.0zM347 648h1.0v1.0h-1.0zM352 641h1.0v1.0h-1.0zM335 664h1.0v1.0h-1.0zM336 663h1.0v1.0h-1.0zM327 660h1.0v1.0h-1.0zM339 634h1.0v1.0h-1.0zM351 636h1.0v1.0h-1.0zM343 632h1.0v1.0h-1.0zM347 632h1.0v1.0h-1.0zM338 663h1.0v1.0h-1.0zM340 660h1.0v1.0h-1.0zM328 673h1.0v1.0h-1.0zM342 672h1.0v1.0h-1.0zM336 674h1.0v1.0h-1.0zM326 673h1.0v1.0h-1.0zM332 670h1.0v1.0h-1.0zM321 670h1.0v1.0h-1.0zM332 679h1.0v1.0h-1.0zM321 679h1.0v1.0h-1.0zM322 678h1.0v1.0h-1.0zM333 678h1.0v1.0h-1.0zM331 671h1.0v1.0h-1.0zM334 670h1.0v1.0h-1.0zM325 667h1.0v1.0h-1.0zM336 667h1.0v1.0h-1.0zM330 666h1.0v1.0h-1.0zM335 680h1.0v1.0h-1.0zM332 663h1.0v1.0h-1.0zM332 672h1.0v1.0h-1.0zM323 669h1.0v1.0h-1.0zM322 671h1.0v1.0h-1.0zM324 677h1.0v1.0h-1.0zM328 668h1.0v1.0h-1.0zM331 664h1.0v1.0h-1.0zM331 673h1.0v1.0h-1.0zM326 668h1.0v1.0h-1.0zM335 673h1.0v1.0h-1.0zM330 668h1.0v1.0h-1.0zM322 664h1.0v1.0h-1.0zM330 677h1.0v1.0h-1.0zM332 674h1.0v1.0h-1.0zM333 673h1.0v1.0h-1.0zM337 673h1.0v1.0h-1.0zM329 669h1.0v1.0h-1.0zM328 679h1.0v1.0h-1.0zM338 681h1.0v1.0h-1.0zM320 675h1.0v1.0h-1.0zM326 670h1.0v1.0h-1.0zM326 679h1.0v1.0h-1.0zM327 671h1.0v1.0h-1.0zM330 670h1.0v1.0h-1.0zM322 675h1.0v1.0h-1.0zM339 672h1.0v1.0h-1.0zM329 671h1.0v1.0h-1.0zM331 668h1.0v1.0h-1.0zM329 680h1.0v1.0h-1.0zM331 677h1.0v1.0h-1.0zM326 672h1.0v1.0h-1.0zM341 663h1.0v1.0h-1.0zM336 676h1.0v1.0h-1.0zM327 673h1.0v1.0h-1.0zM330 672h1.0v1.0h-1.0zM321 669h1.0v1.0h-1.0zM333 677h1.0v1.0h-1.0zM322 677h1.0v1.0h-1.0zM324 674h1.0v1.0h-1.0zM337 668h1.0v1.0h-1.0zM328 665h1.0v1.0h-1.0zM338 676h1.0v1.0h-1.0zM320 670h1.0v1.0h-1.0zM326 665h1.0v1.0h-1.0zM335 670h1.0v1.0h-1.0zM336 678h1.0v1.0h-1.0zM327 675h1.0v1.0h-1.0zM330 674h1.0v1.0h-1.0zM333 670h1.0v1.0h-1.0zM338 669h1.0v1.0h-1.0zM337 679h1.0v1.0h-1.0zM328 676h1.0v1.0h-1.0zM339 676h1.0v1.0h-1.0zM329 675h1.0v1.0h-1.0zM331 672h1.0v1.0h-1.0zM320 672h1.0v1.0h-1.0zM331 681h1.0v1.0h-1.0zM335 672h1.0v1.0h-1.0zM325 671h1.0v1.0h-1.0zM327 668h1.0v1.0h-1.0zM337 672h1.0v1.0h-1.0zM318 677h1.0v1.0h-1.0zM329 677h1.0v1.0h-1.0zM334 676h1.0v1.0h-1.0zM325 673h1.0v1.0h-1.0zM327 670h1.0v1.0h-1.0zM319 666h1.0v1.0h-1.0zM327 679h1.0v1.0h-1.0zM333 674h1.0v1.0h-1.0zM338 664h1.0v1.0h-1.0zM339 671h1.0v1.0h-1.0zM329 670h1.0v1.0h-1.0zM331 667h1.0v1.0h-1.0zM335 667h1.0v1.0h-1.0zM334 669h1.0v1.0h-1.0zM325 666h1.0v1.0h-1.0zM334 678h1.0v1.0h-1.0zM336 675h1.0v1.0h-1.0zM326 674h1.0v1.0h-1.0zM332 671h1.0v1.0h-1.0zM321 671h1.0v1.0h-1.0zM328 664h1.0v1.0h-1.0zM338 666h1.0v1.0h-1.0zM337 676h1.0v1.0h-1.0zM335 669h1.0v1.0h-1.0zM334 671h1.0v1.0h-1.0zM327 665h1.0v1.0h-1.0zM335 678h1.0v1.0h-1.0zM327 674h1.0v1.0h-1.0zM319 670h1.0v1.0h-1.0zM338 677h1.0v1.0h-1.0zM325 670h1.0v1.0h-1.0zM336 679h1.0v1.0h-1.0zM327 676h1.0v1.0h-1.0zM326 678h1.0v1.0h-1.0zM319 672h1.0v1.0h-1.0zM330 669h1.0v1.0h-1.0zM332 666h1.0v1.0h-1.0zM330 678h1.0v1.0h-1.0zM332 675h1.0v1.0h-1.0zM324 671h1.0v1.0h-1.0zM323 681h1.0v1.0h-1.0zM324 680h1.0v1.0h-1.0zM328 671h1.0v1.0h-1.0zM343 669h1.0v1.0h-1.0zM336 663h1.0v1.0h-1.0zM328 680h1.0v1.0h-1.0zM334 675h1.0v1.0h-1.0zM325 672h1.0v1.0h-1.0zM327 669h1.0v1.0h-1.0zM325 681h1.0v1.0h-1.0zM321 668h1.0v1.0h-1.0zM324 673h1.0v1.0h-1.0zM353 631h1.0v1.0h-1.0zM352 634h1.0v1.0h-1.0zM351 631h1.0v1.0h-1.0zM352 637h1.0v1.0h-1.0zM350 633h1.0v1.0h-1.0zM349 637h1.0v1.0h-1.0zM349 640h1.0v1.0h-1.0zM354 636h1.0v1.0h-1.0zM353 639h1.0v1.0h-1.0zM352 638h1.0v1.0h-1.0zM360 645h1.0v1.0h-1.0zM358 635h1.0v1.0h-1.0zM353 635h1.0v1.0h-1.0zM349 638h1.0v1.0h-1.0z" fill="#000"/>
<path d="M347 644h1.0v1.0h-1.0zM341 637h1.0v1.0h-1.0zM327 650h1.0v1.0h-1.0zM346 636h1.0v1.0h-1.0zM333 648h1.0v1.0h-1.0zM337 636h1.0v1.0h-1.0zM328 645h1.0v1.0h-1.0zM332 661h1.0v1.0h-1.0zM328 642h1.0v1.0h-1.0zM329 653h1.0v1.0h-1.0zM328 651h1.0v1.0h-1.0zM347 634h1.0v1.0h-1.0zM347 643h1.0v1.0h-1.0zM327 640h1.0v1.0h-1.0zM349 640h1.0v1.0h-1.0zM327 646h1.0v1.0h-1.0zM327 655h1.0v1.0h-1.0zM336 661h1.0v1.0h-1.0zM346 635h1.0v1.0h-1.0zM341 651h1.0v1.0h-1.0zM330 660h1.0v1.0h-1.0zM348 641h1.0v1.0h-1.0zM338 640h1.0v1.0h-1.0zM345 645h1.0v1.0h-1.0zM339 659h1.0v1.0h-1.0zM347 642h1.0v1.0h-1.0zM349 639h1.0v1.0h-1.0zM327 639h1.0v1.0h-1.0zM327 642h1.0v1.0h-1.0zM330 641h1.0v1.0h-1.0zM327 645h1.0v1.0h-1.0zM335 658h1.0v1.0h-1.0zM332 638h1.0v1.0h-1.0zM346 637h1.0v1.0h-1.0zM348 637h1.0v1.0h-1.0zM330 659h1.0v1.0h-1.0zM340 639h1.0v1.0h-1.0zM343 635h1.0v1.0h-1.0zM338 660h1.0v1.0h-1.0zM328 649h1.0v1.0h-1.0zM328 652h1.0v1.0h-1.0zM329 657h1.0v1.0h-1.0z" fill="#fff"/>
<line x1="346.3" y1="624.3" x2="346.3" y2="683" stroke="#000" stroke-width="1.2"/>
<line x1="317.3" y1="654.3" x2="394.8" y2="654.3" stroke="#000" stroke-width="1.2"/>
<text x="0" y="0" font-size="12.3" font-weight="bold" text-anchor="start" fill="#000" transform="translate(319.6,633.8) scale(0.97,1)">42%</text>
<text x="0" y="0" font-size="12.8" font-weight="bold" text-anchor="end" fill="#000" transform="translate(393.4,650.7) scale(0.93,1)">2%</text>
<text x="0" y="0" font-size="12.8" font-weight="bold" text-anchor="end" fill="#000" transform="translate(393.4,666.5) scale(0.93,1)">3%</text>
<text x="0" y="0" font-size="12.6" font-weight="bold" text-anchor="end" fill="#000" transform="translate(393.2,681.3) scale(0.92,1)">+ KM81</text>
<rect x="424.3" y="624.3" width="78.9" height="58.7" fill="none" stroke="#000" stroke-width="1.2"/>
<path d="M430.24 683v1.5M424.3 678.58h-1.5M433.71 683v1.5M424.3 676h-1.5M436.18 683v1.5M424.3 674.16h-1.5M438.09 683v1.5M424.3 672.74h-1.5M439.65 683v1.5M424.3 671.58h-1.5M440.97 683v1.5M424.3 670.6h-1.5M442.11 683v1.5M424.3 669.75h-1.5M443.12 683v1.5M424.3 669h-1.5M449.96 683v1.5M424.3 663.91h-1.5M453.44 683v1.5M424.3 661.32h-1.5M455.9 683v1.5M424.3 659.49h-1.5M457.81 683v1.5M424.3 658.07h-1.5M459.37 683v1.5M424.3 656.91h-1.5M460.69 683v1.5M424.3 655.92h-1.5M461.84 683v1.5M424.3 655.07h-1.5M462.85 683v1.5M424.3 654.32h-1.5M469.69 683v1.5M424.3 649.23h-1.5M473.16 683v1.5M424.3 646.65h-1.5M475.63 683v1.5M424.3 644.81h-1.5M477.54 683v1.5M424.3 643.39h-1.5M479.1 683v1.5M424.3 642.23h-1.5M480.42 683v1.5M424.3 641.25h-1.5M481.56 683v1.5M424.3 640.4h-1.5M482.57 683v1.5M424.3 639.65h-1.5M489.41 683v1.5M424.3 634.56h-1.5M492.89 683v1.5M424.3 631.97h-1.5M495.35 683v1.5M424.3 630.14h-1.5M497.26 683v1.5M424.3 628.72h-1.5M498.82 683v1.5M424.3 627.56h-1.5M500.14 683v1.5M424.3 626.57h-1.5M501.29 683v1.5M424.3 625.72h-1.5M502.3 683v1.5M424.3 624.97h-1.5M424.3 683v3M424.3 683h-3M444.02 683v3M424.3 668.33h-3M463.75 683v3M424.3 653.65h-3M483.48 683v3M424.3 638.97h-3M503.2 683v3M424.3 624.3h-3" stroke="#000" stroke-width="0.9" fill="none"/>
<text transform="translate(419.01,697.2) scale(0.7,1)" font-size="9.9" font-weight="normal" stroke="#000" stroke-width="0.45">10</text><text transform="translate(427.11,691.8) scale(0.9,1)" font-size="8" font-weight="normal" stroke="#000" stroke-width="0.45">0</text>
<text transform="translate(418.8,688.79) rotate(-90) scale(0.95,1)" font-size="8.3" font-weight="normal" stroke="#000" stroke-width="0.4">10</text><text transform="translate(413.6,680) rotate(-90) scale(1.0,1)" font-size="7.4" font-weight="normal" stroke="#000" stroke-width="0.4">0</text>
<text transform="translate(438.73,697.2) scale(0.7,1)" font-size="9.9" font-weight="normal" stroke="#000" stroke-width="0.45">10</text><text transform="translate(446.84,691.8) scale(0.9,1)" font-size="8" font-weight="normal" stroke="#000" stroke-width="0.45">1</text>
<text transform="translate(418.8,674.11) rotate(-90) scale(0.95,1)" font-size="8.3" font-weight="normal" stroke="#000" stroke-width="0.4">10</text><text transform="translate(413.6,665.32) rotate(-90) scale(1.0,1)" font-size="7.4" font-weight="normal" stroke="#000" stroke-width="0.4">1</text>
<text transform="translate(458.46,697.2) scale(0.7,1)" font-size="9.9" font-weight="normal" stroke="#000" stroke-width="0.45">10</text><text transform="translate(466.56,691.8) scale(0.9,1)" font-size="8" font-weight="normal" stroke="#000" stroke-width="0.45">2</text>
<text transform="translate(418.8,659.44) rotate(-90) scale(0.95,1)" font-size="8.3" font-weight="normal" stroke="#000" stroke-width="0.4">10</text><text transform="translate(413.6,650.65) rotate(-90) scale(1.0,1)" font-size="7.4" font-weight="normal" stroke="#000" stroke-width="0.4">2</text>
<text transform="translate(478.18,697.2) scale(0.7,1)" font-size="9.9" font-weight="normal" stroke="#000" stroke-width="0.45">10</text><text transform="translate(486.29,691.8) scale(0.9,1)" font-size="8" font-weight="normal" stroke="#000" stroke-width="0.45">3</text>
<text transform="translate(418.8,644.76) rotate(-90) scale(0.95,1)" font-size="8.3" font-weight="normal" stroke="#000" stroke-width="0.4">10</text><text transform="translate(413.6,635.97) rotate(-90) scale(1.0,1)" font-size="7.4" font-weight="normal" stroke="#000" stroke-width="0.4">3</text>
<text transform="translate(497.91,697.2) scale(0.7,1)" font-size="9.9" font-weight="normal" stroke="#000" stroke-width="0.45">10</text><text transform="translate(506.01,691.8) scale(0.9,1)" font-size="8" font-weight="normal" stroke="#000" stroke-width="0.45">4</text>
<text transform="translate(418.8,630.09) rotate(-90) scale(0.95,1)" font-size="8.3" font-weight="normal" stroke="#000" stroke-width="0.4">10</text><text transform="translate(413.6,621.3) rotate(-90) scale(1.0,1)" font-size="7.4" font-weight="normal" stroke="#000" stroke-width="0.4">4</text>
<path d="M424.8 632.2C426.55 629.3 431.48 631.15 435.3 630.6C439.12 630.05 444.27 628.9 447.7 628.9C451.13 628.9 455.08 628.95 455.9 630.6C456.72 632.25 453.97 636.33 452.6 638.8C451.23 641.27 449.35 643.35 447.7 645.4C446.05 647.45 444.77 649.47 442.7 651.1C440.63 652.73 437.48 655.2 435.3 655.2C433.12 655.2 431.35 652.3 429.6 651.1C427.85 649.9 425.6 651.15 424.8 648C424 644.85 423.05 635.1 424.8 632.2Z" stroke="#000" stroke-width="0.6" fill="#000"/>
<path d="M432 654h1.0v1.0h-1.0zM442 656h1.0v1.0h-1.0zM444 628h1.0v1.0h-1.0zM451 643h1.0v1.0h-1.0zM453 640h1.0v1.0h-1.0zM427 630h1.0v1.0h-1.0zM443 657h1.0v1.0h-1.0zM434 654h1.0v1.0h-1.0zM458 648h1.0v1.0h-1.0zM432 629h1.0v1.0h-1.0zM455 631h1.0v1.0h-1.0zM450 644h1.0v1.0h-1.0zM452 641h1.0v1.0h-1.0zM439 653h1.0v1.0h-1.0zM430 629h1.0v1.0h-1.0zM460 630h1.0v1.0h-1.0zM460 639h1.0v1.0h-1.0zM435 661h1.0v1.0h-1.0zM434 629h1.0v1.0h-1.0zM454 641h1.0v1.0h-1.0zM438 654h1.0v1.0h-1.0zM429 651h1.0v1.0h-1.0zM444 651h1.0v1.0h-1.0zM455 633h1.0v1.0h-1.0zM433 630h1.0v1.0h-1.0zM449 626h1.0v1.0h-1.0zM436 656h1.0v1.0h-1.0zM427 653h1.0v1.0h-1.0zM441 652h1.0v1.0h-1.0zM456 634h1.0v1.0h-1.0zM430 631h1.0v1.0h-1.0zM451 629h1.0v1.0h-1.0zM428 661h1.0v1.0h-1.0zM433 657h1.0v1.0h-1.0zM446 651h1.0v1.0h-1.0zM454 634h1.0v1.0h-1.0zM454 643h1.0v1.0h-1.0zM437 657h1.0v1.0h-1.0zM440 653h1.0v1.0h-1.0zM430 652h1.0v1.0h-1.0zM452 627h1.0v1.0h-1.0zM455 635h1.0v1.0h-1.0zM456 627h1.0v1.0h-1.0zM441 654h1.0v1.0h-1.0zM460 643h1.0v1.0h-1.0zM453 637h1.0v1.0h-1.0zM454 636h1.0v1.0h-1.0zM426 629h1.0v1.0h-1.0zM428 626h1.0v1.0h-1.0zM430 654h1.0v1.0h-1.0zM441 629h1.0v1.0h-1.0zM455 628h1.0v1.0h-1.0zM442 628h1.0v1.0h-1.0zM450 650h1.0v1.0h-1.0zM452 647h1.0v1.0h-1.0zM442 655h1.0v1.0h-1.0zM460 636h1.0v1.0h-1.0zM446 646h1.0v1.0h-1.0zM454 629h1.0v1.0h-1.0zM451 642h1.0v1.0h-1.0zM426 631h1.0v1.0h-1.0zM458 629h1.0v1.0h-1.0zM440 657h1.0v1.0h-1.0zM430 656h1.0v1.0h-1.0zM450 643h1.0v1.0h-1.0zM452 640h1.0v1.0h-1.0zM427 650h1.0v1.0h-1.0zM456 631h1.0v1.0h-1.0zM451 626h1.0v1.0h-1.0zM431 629h1.0v1.0h-1.0zM446 648h1.0v1.0h-1.0zM448 645h1.0v1.0h-1.0zM449 644h1.0v1.0h-1.0zM437 654h1.0v1.0h-1.0zM450 627h1.0v1.0h-1.0zM439 627h1.0v1.0h-1.0zM453 644h1.0v1.0h-1.0zM444 650h1.0v1.0h-1.0zM432 630h1.0v1.0h-1.0zM445 649h1.0v1.0h-1.0zM444 659h1.0v1.0h-1.0zM436 655h1.0v1.0h-1.0zM427 652h1.0v1.0h-1.0zM428 651h1.0v1.0h-1.0zM456 633h1.0v1.0h-1.0zM457 632h1.0v1.0h-1.0zM427 661h1.0v1.0h-1.0zM437 629h1.0v1.0h-1.0zM451 628h1.0v1.0h-1.0zM448 647h1.0v1.0h-1.0zM435 656h1.0v1.0h-1.0zM429 652h1.0v1.0h-1.0zM430 651h1.0v1.0h-1.0zM450 629h1.0v1.0h-1.0zM441 626h1.0v1.0h-1.0zM439 629h1.0v1.0h-1.0zM456 626h1.0v1.0h-1.0zM456 635h1.0v1.0h-1.0zM442 652h1.0v1.0h-1.0zM456 644h1.0v1.0h-1.0zM444 627h1.0v1.0h-1.0zM440 654h1.0v1.0h-1.0zM453 639h1.0v1.0h-1.0zM430 653h1.0v1.0h-1.0zM427 629h1.0v1.0h-1.0zM453 648h1.0v1.0h-1.0zM425 650h1.0v1.0h-1.0zM456 628h1.0v1.0h-1.0zM436 659h1.0v1.0h-1.0zM457 636h1.0v1.0h-1.0zM454 628h1.0v1.0h-1.0zM430 628h1.0v1.0h-1.0zM431 626h1.0v1.0h-1.0zM441 658h1.0v1.0h-1.0zM432 655h1.0v1.0h-1.0zM446 654h1.0v1.0h-1.0zM435 660h1.0v1.0h-1.0zM453 641h1.0v1.0h-1.0zM427 631h1.0v1.0h-1.0zM428 630h1.0v1.0h-1.0zM442 629h1.0v1.0h-1.0zM434 655h1.0v1.0h-1.0zM427 649h1.0v1.0h-1.0zM426 651h1.0v1.0h-1.0zM456 630h1.0v1.0h-1.0zM455 632h1.0v1.0h-1.0zM437 626h1.0v1.0h-1.0zM456 639h1.0v1.0h-1.0zM457 638h1.0v1.0h-1.0zM429 631h1.0v1.0h-1.0zM431 628h1.0v1.0h-1.0zM446 647h1.0v1.0h-1.0zM430 630h1.0v1.0h-1.0zM449 643h1.0v1.0h-1.0zM447 646h1.0v1.0h-1.0zM449 652h1.0v1.0h-1.0zM434 630h1.0v1.0h-1.0zM436 627h1.0v1.0h-1.0zM453 643h1.0v1.0h-1.0zM454 642h1.0v1.0h-1.0zM461 635h1.0v1.0h-1.0zM444 649h1.0v1.0h-1.0zM429 661h1.0v1.0h-1.0zM434 657h1.0v1.0h-1.0zM456 632h1.0v1.0h-1.0zM455 634h1.0v1.0h-1.0zM448 628h1.0v1.0h-1.0zM437 628h1.0v1.0h-1.0zM452 644h1.0v1.0h-1.0zM439 656h1.0v1.0h-1.0zM441 653h1.0v1.0h-1.0zM447 648h1.0v1.0h-1.0zM449 645h1.0v1.0h-1.0zM453 627h1.0v1.0h-1.0zM435 655h1.0v1.0h-1.0zM453 636h1.0v1.0h-1.0zM454 635h1.0v1.0h-1.0zM436 629h1.0v1.0h-1.0zM450 628h1.0v1.0h-1.0zM454 644h1.0v1.0h-1.0zM443 653h1.0v1.0h-1.0zM445 650h1.0v1.0h-1.0zM428 652h1.0v1.0h-1.0zM455 636h1.0v1.0h-1.0zM457 633h1.0v1.0h-1.0zM438 629h1.0v1.0h-1.0zM439 658h1.0v1.0h-1.0zM441 655h1.0v1.0h-1.0zM442 654h1.0v1.0h-1.0zM439 667h1.0v1.0h-1.0zM449 647h1.0v1.0h-1.0zM444 626h1.0v1.0h-1.0zM443 628h1.0v1.0h-1.0zM435 657h1.0v1.0h-1.0zM451 641h1.0v1.0h-1.0zM453 638h1.0v1.0h-1.0zM454 637h1.0v1.0h-1.0zM459 633h1.0v1.0h-1.0zM427 628h1.0v1.0h-1.0zM440 656h1.0v1.0h-1.0zM431 653h1.0v1.0h-1.0zM445 652h1.0v1.0h-1.0zM432 627h1.0v1.0h-1.0zM450 642h1.0v1.0h-1.0zM457 635h1.0v1.0h-1.0z" fill="#666"/>
<path d="M432 654h1.0v1.0h-1.0zM433 653h1.0v1.0h-1.0zM447 652h1.0v1.0h-1.0zM444 628h1.0v1.0h-1.0zM448 644h1.0v1.0h-1.0zM451 643h1.0v1.0h-1.0zM453 640h1.0v1.0h-1.0zM454 639h1.0v1.0h-1.0zM427 630h1.0v1.0h-1.0zM428 629h1.0v1.0h-1.0zM443 657h1.0v1.0h-1.0zM434 654h1.0v1.0h-1.0zM426 650h1.0v1.0h-1.0zM432 629h1.0v1.0h-1.0zM446 628h1.0v1.0h-1.0zM447 627h1.0v1.0h-1.0zM452 641h1.0v1.0h-1.0zM439 653h1.0v1.0h-1.0zM427 651h1.0v1.0h-1.0zM447 645h1.0v1.0h-1.0zM432 656h1.0v1.0h-1.0zM433 655h1.0v1.0h-1.0zM446 649h1.0v1.0h-1.0zM448 646h1.0v1.0h-1.0zM434 629h1.0v1.0h-1.0zM453 642h1.0v1.0h-1.0zM431 630h1.0v1.0h-1.0zM445 629h1.0v1.0h-1.0zM451 645h1.0v1.0h-1.0zM438 654h1.0v1.0h-1.0zM443 650h1.0v1.0h-1.0zM445 647h1.0v1.0h-1.0zM426 652h1.0v1.0h-1.0zM444 651h1.0v1.0h-1.0zM455 633h1.0v1.0h-1.0zM450 646h1.0v1.0h-1.0zM439 655h1.0v1.0h-1.0zM441 652h1.0v1.0h-1.0zM456 634h1.0v1.0h-1.0zM427 653h1.0v1.0h-1.0zM430 631h1.0v1.0h-1.0zM451 629h1.0v1.0h-1.0zM453 626h1.0v1.0h-1.0zM438 656h1.0v1.0h-1.0zM440 653h1.0v1.0h-1.0zM429 653h1.0v1.0h-1.0zM443 652h1.0v1.0h-1.0zM430 652h1.0v1.0h-1.0zM452 627h1.0v1.0h-1.0zM455 635h1.0v1.0h-1.0zM425 649h1.0v1.0h-1.0zM450 648h1.0v1.0h-1.0zM449 628h1.0v1.0h-1.0zM436 658h1.0v1.0h-1.0zM441 654h1.0v1.0h-1.0zM428 654h1.0v1.0h-1.0zM442 653h1.0v1.0h-1.0zM453 628h1.0v1.0h-1.0zM454 627h1.0v1.0h-1.0zM451 640h1.0v1.0h-1.0zM453 637h1.0v1.0h-1.0zM454 636h1.0v1.0h-1.0zM446 653h1.0v1.0h-1.0zM448 650h1.0v1.0h-1.0zM431 652h1.0v1.0h-1.0zM452 629h1.0v1.0h-1.0zM455 628h1.0v1.0h-1.0zM456 638h1.0v1.0h-1.0zM451 642h1.0v1.0h-1.0zM446 655h1.0v1.0h-1.0zM454 638h1.0v1.0h-1.0zM431 654h1.0v1.0h-1.0zM430 656h1.0v1.0h-1.0zM450 643h1.0v1.0h-1.0zM452 640h1.0v1.0h-1.0zM434 656h1.0v1.0h-1.0zM427 650h1.0v1.0h-1.0zM452 649h1.0v1.0h-1.0zM456 631h1.0v1.0h-1.0zM439 652h1.0v1.0h-1.0zM456 640h1.0v1.0h-1.0zM442 657h1.0v1.0h-1.0zM431 629h1.0v1.0h-1.0zM446 648h1.0v1.0h-1.0zM448 645h1.0v1.0h-1.0zM449 644h1.0v1.0h-1.0zM447 647h1.0v1.0h-1.0zM454 640h1.0v1.0h-1.0zM437 654h1.0v1.0h-1.0zM434 628h1.0v1.0h-1.0zM438 653h1.0v1.0h-1.0zM429 650h1.0v1.0h-1.0zM445 628h1.0v1.0h-1.0zM453 644h1.0v1.0h-1.0zM444 650h1.0v1.0h-1.0zM432 630h1.0v1.0h-1.0zM445 649h1.0v1.0h-1.0zM450 645h1.0v1.0h-1.0zM452 642h1.0v1.0h-1.0zM436 655h1.0v1.0h-1.0zM439 654h1.0v1.0h-1.0zM456 633h1.0v1.0h-1.0zM428 651h1.0v1.0h-1.0zM437 629h1.0v1.0h-1.0zM451 628h1.0v1.0h-1.0zM431 631h1.0v1.0h-1.0zM448 647h1.0v1.0h-1.0zM449 646h1.0v1.0h-1.0zM432 660h1.0v1.0h-1.0zM438 655h1.0v1.0h-1.0zM440 652h1.0v1.0h-1.0zM459 632h1.0v1.0h-1.0zM439 629h1.0v1.0h-1.0zM453 646h1.0v1.0h-1.0zM444 652h1.0v1.0h-1.0zM443 654h1.0v1.0h-1.0zM445 651h1.0v1.0h-1.0zM425 648h1.0v1.0h-1.0zM436 657h1.0v1.0h-1.0zM456 635h1.0v1.0h-1.0zM455 637h1.0v1.0h-1.0zM442 652h1.0v1.0h-1.0zM457 634h1.0v1.0h-1.0zM440 627h1.0v1.0h-1.0zM432 653h1.0v1.0h-1.0zM453 639h1.0v1.0h-1.0zM430 653h1.0v1.0h-1.0zM441 628h1.0v1.0h-1.0zM446 627h1.0v1.0h-1.0zM428 655h1.0v1.0h-1.0zM455 639h1.0v1.0h-1.0zM440 629h1.0v1.0h-1.0zM454 628h1.0v1.0h-1.0zM432 655h1.0v1.0h-1.0zM433 654h1.0v1.0h-1.0zM444 629h1.0v1.0h-1.0zM451 644h1.0v1.0h-1.0zM428 630h1.0v1.0h-1.0zM443 649h1.0v1.0h-1.0zM426 651h1.0v1.0h-1.0zM456 630h1.0v1.0h-1.0zM455 632h1.0v1.0h-1.0zM437 626h1.0v1.0h-1.0zM448 626h1.0v1.0h-1.0zM447 628h1.0v1.0h-1.0zM455 641h1.0v1.0h-1.0zM456 639h1.0v1.0h-1.0zM441 651h1.0v1.0h-1.0zM431 628h1.0v1.0h-1.0zM446 647h1.0v1.0h-1.0zM447 646h1.0v1.0h-1.0zM449 643h1.0v1.0h-1.0zM430 630h1.0v1.0h-1.0zM425 627h1.0v1.0h-1.0zM451 646h1.0v1.0h-1.0zM444 649h1.0v1.0h-1.0zM443 651h1.0v1.0h-1.0zM445 648h1.0v1.0h-1.0zM431 658h1.0v1.0h-1.0zM455 634h1.0v1.0h-1.0zM448 628h1.0v1.0h-1.0zM452 644h1.0v1.0h-1.0zM449 627h1.0v1.0h-1.0zM438 627h1.0v1.0h-1.0zM439 656h1.0v1.0h-1.0zM441 653h1.0v1.0h-1.0zM449 645h1.0v1.0h-1.0zM435 655h1.0v1.0h-1.0zM454 635h1.0v1.0h-1.0zM436 629h1.0v1.0h-1.0zM439 628h1.0v1.0h-1.0zM451 648h1.0v1.0h-1.0zM450 628h1.0v1.0h-1.0zM454 644h1.0v1.0h-1.0zM445 650h1.0v1.0h-1.0zM457 633h1.0v1.0h-1.0zM447 650h1.0v1.0h-1.0zM449 647h1.0v1.0h-1.0zM453 629h1.0v1.0h-1.0zM443 628h1.0v1.0h-1.0zM451 641h1.0v1.0h-1.0zM453 638h1.0v1.0h-1.0zM454 637h1.0v1.0h-1.0zM425 631h1.0v1.0h-1.0zM427 628h1.0v1.0h-1.0zM426 630h1.0v1.0h-1.0zM440 656h1.0v1.0h-1.0zM431 653h1.0v1.0h-1.0zM455 629h1.0v1.0h-1.0zM450 642h1.0v1.0h-1.0zM452 639h1.0v1.0h-1.0zM455 638h1.0v1.0h-1.0zM440 628h1.0v1.0h-1.0zM430 627h1.0v1.0h-1.0zM427 664h1.0v1.0h-1.0zM428 663h1.0v1.0h-1.0zM439 663h1.0v1.0h-1.0zM425 670h1.0v1.0h-1.0zM441 666h1.0v1.0h-1.0zM441 663h1.0v1.0h-1.0zM432 660h1.0v1.0h-1.0zM442 668h1.0v1.0h-1.0zM441 672h1.0v1.0h-1.0zM438 658h1.0v1.0h-1.0zM438 664h1.0v1.0h-1.0zM435 665h1.0v1.0h-1.0zM437 668h1.0v1.0h-1.0zM429 664h1.0v1.0h-1.0zM430 663h1.0v1.0h-1.0zM430 666h1.0v1.0h-1.0zM440 670h1.0v1.0h-1.0zM426 662h1.0v1.0h-1.0zM425 660h1.0v1.0h-1.0zM441 656h1.0v1.0h-1.0zM432 659h1.0v1.0h-1.0zM439 668h1.0v1.0h-1.0zM439 674h1.0v1.0h-1.0zM433 658h1.0v1.0h-1.0zM432 662h1.0v1.0h-1.0zM433 661h1.0v1.0h-1.0zM433 664h1.0v1.0h-1.0zM449 657h1.0v1.0h-1.0zM432 671h1.0v1.0h-1.0zM432 665h1.0v1.0h-1.0zM430 671h1.0v1.0h-1.0zM431 660h1.0v1.0h-1.0zM440 663h1.0v1.0h-1.0zM429 672h1.0v1.0h-1.0zM434 662h1.0v1.0h-1.0zM431 663h1.0v1.0h-1.0zM440 675h1.0v1.0h-1.0zM436 656h1.0v1.0h-1.0zM434 671h1.0v1.0h-1.0zM427 659h1.0v1.0h-1.0zM442 657h1.0v1.0h-1.0zM439 664h1.0v1.0h-1.0zM439 661h1.0v1.0h-1.0zM427 665h1.0v1.0h-1.0zM439 673h1.0v1.0h-1.0zM432 661h1.0v1.0h-1.0zM433 666h1.0v1.0h-1.0zM446 657h1.0v1.0h-1.0zM435 660h1.0v1.0h-1.0zM448 657h1.0v1.0h-1.0zM432 673h1.0v1.0h-1.0zM438 656h1.0v1.0h-1.0zM438 662h1.0v1.0h-1.0zM438 665h1.0v1.0h-1.0zM440 662h1.0v1.0h-1.0zM431 653h1.0v1.0h-1.0zM435 675h1.0v1.0h-1.0zM429 671h1.0v1.0h-1.0zM430 670h1.0v1.0h-1.0zM434 658h1.0v1.0h-1.0zM425 661h1.0v1.0h-1.0zM426 660h1.0v1.0h-1.0zM443 679h1.0v1.0h-1.0zM466 634h1.0v1.0h-1.0zM467 644h1.0v1.0h-1.0zM454 643h1.0v1.0h-1.0zM462 650h1.0v1.0h-1.0zM463 637h1.0v1.0h-1.0zM466 643h1.0v1.0h-1.0zM465 637h1.0v1.0h-1.0zM456 641h1.0v1.0h-1.0zM463 642h1.0v1.0h-1.0zM459 647h1.0v1.0h-1.0zM464 634h1.0v1.0h-1.0zM461 647h1.0v1.0h-1.0z" fill="#000"/>
<path d="M428 632h1.0v1.0h-1.0zM428 638h1.0v1.0h-1.0zM441 629h1.0v1.0h-1.0zM434 654h1.0v1.0h-1.0zM427 639h1.0v1.0h-1.0zM449 630h1.0v1.0h-1.0zM430 632h1.0v1.0h-1.0zM453 630h1.0v1.0h-1.0zM451 630h1.0v1.0h-1.0zM443 629h1.0v1.0h-1.0zM451 639h1.0v1.0h-1.0zM437 652h1.0v1.0h-1.0zM444 642h1.0v1.0h-1.0zM445 641h1.0v1.0h-1.0zM444 648h1.0v1.0h-1.0zM432 636h1.0v1.0h-1.0zM434 653h1.0v1.0h-1.0zM433 633h1.0v1.0h-1.0zM436 653h1.0v1.0h-1.0zM452 637h1.0v1.0h-1.0zM455 630h1.0v1.0h-1.0zM437 630h1.0v1.0h-1.0zM433 648h1.0v1.0h-1.0zM437 636h1.0v1.0h-1.0zM429 632h1.0v1.0h-1.0zM434 631h1.0v1.0h-1.0zM437 654h1.0v1.0h-1.0zM440 650h1.0v1.0h-1.0zM444 632h1.0v1.0h-1.0zM439 630h1.0v1.0h-1.0zM450 639h1.0v1.0h-1.0zM441 645h1.0v1.0h-1.0zM447 643h1.0v1.0h-1.0z" fill="#fff"/>
<line x1="452.6" y1="624.3" x2="452.6" y2="683" stroke="#000" stroke-width="1.2"/>
<line x1="424.3" y1="654.3" x2="503.2" y2="654.3" stroke="#000" stroke-width="1.2"/>
<text x="0" y="0" font-size="12.8" font-weight="bold" text-anchor="end" fill="#000" transform="translate(499.6,636.5) scale(0.93,1)">78%</text>
<text x="0" y="0" font-size="12.8" font-weight="bold" text-anchor="end" fill="#000" transform="translate(499.6,651.3) scale(0.93,1)">4%</text>
<text x="0" y="0" font-size="12.8" font-weight="bold" text-anchor="end" fill="#000" transform="translate(499.6,666.5) scale(0.93,1)">8%</text>
<text x="0" y="0" font-size="12.6" font-weight="bold" text-anchor="end" fill="#000" transform="translate(499.4,681.3) scale(0.92,1)">+ KM81</text>
<path d="M474.5 632.3 L464 632.3" stroke="#000" stroke-width="1.2" fill="none" stroke-dasharray="3,1.6"/><path d="M466 629.2 L461 632.2 L466 635.2" stroke="#000" stroke-width="1.2" fill="none"/>
<text x="0" y="0" font-size="8.5" font-weight="normal" text-anchor="start" fill="#000" transform="translate(405.4,670) rotate(-90)">CD44</text>
</svg></body></html>
